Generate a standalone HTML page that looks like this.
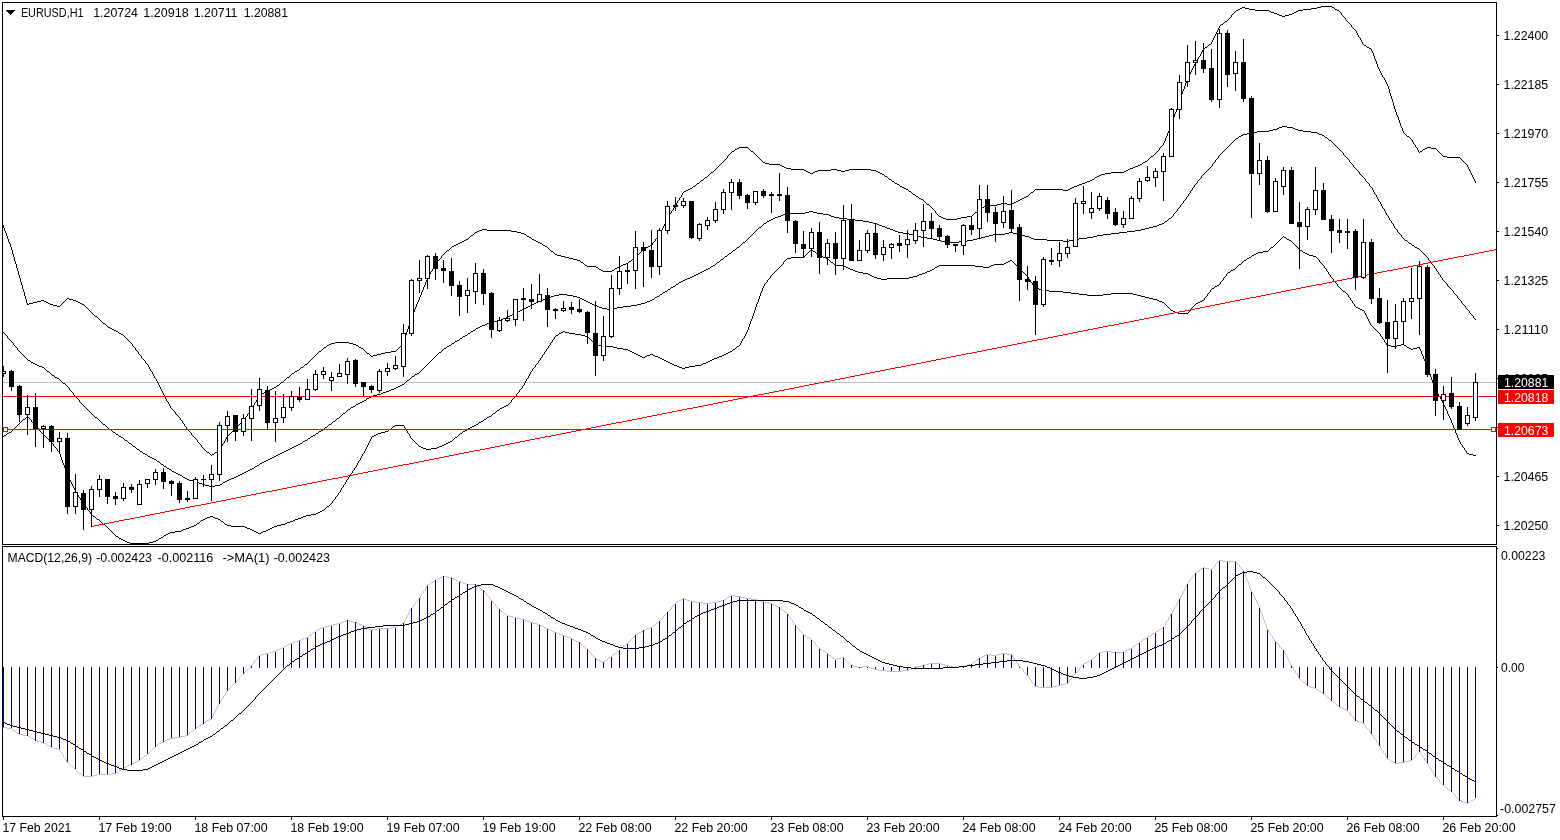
<!DOCTYPE html><html><head><meta charset="utf-8"><title>EURUSD,H1</title>
<style>html,body{margin:0;padding:0;background:#fff}svg{display:block}text{font-family:"Liberation Sans","DejaVu Sans",sans-serif;font-size:12.6px;fill:#000}</style></head><body>
<svg width="1560" height="840" viewBox="0 0 1560 840">
<rect width="1560" height="840" fill="#fff"/>
<g shape-rendering="crispEdges">
<clipPath id="cm"><rect x="3" y="3" width="1493" height="541"/></clipPath>
<clipPath id="cd"><rect x="3" y="547" width="1493" height="269"/></clipPath>
<g clip-path="url(#cm)">
<rect x="3" y="382" width="1493" height="1" fill="#c0c0c0"/>
<path fill="none" stroke="#000" stroke-width="1" d="M1159.5 148v2M1178.5 103v3M416.5 304v3M677.5 201v2M1394.5 106v3M166.5 399v2M1395.5 109v3M424.5 285v2M18.5 271v4M1187.5 78v2M170.5 406v2M413.5 312v2M21.5 282v3M1398.5 117v3M437.5 261v2M4.5 228v3M673.5 208v2M8.5 239v3M669.5 214v2M407.5 329v3M225.5 439v2M1468.5 167v2M1358.5 35v2M221.5 446v2M1362.5 42v2M1186.5 80v3M423.5 287v3M1376.5 61v3M935.5 211v2M432.5 269v2M1390.5 93v3M1168.5 131v2M224.5 441v2M664.5 224v2M1393.5 102v4M1200.5 54v2M17.5 268v3M1177.5 106v3M168.5 402v2M220.5 448v2M20.5 278v4M3.5 225v3M1184.5 86v3M1196.5 61v2M9.5 242v2M410.5 319v3M430.5 272v2M1389.5 89v4M1192.5 68v2M1345.5 18v2M13.5 254v3M160.5 387v2M1470.5 171v2M1167.5 133v3M1467.5 165v2M1360.5 38v2M161.5 389v2M663.5 226v2M1375.5 59v2M1164.5 141v2M409.5 322v4M1382.5 75v2M1413.5 142v2M1385.5 80v2M135.5 348v2M682.5 193v2M150.5 369v2M1191.5 70v2M153.5 374v2M258.5 396v2M1219.5 26v2M254.5 403v2M658.5 235v2M1171.5 123v3M159.5 385v2M441.5 256v2M412.5 314v2M253.5 405v2M1412.5 140v2M1387.5 84v2M420.5 295v2M1384.5 78v2M148.5 365v2M11.5 247v3M152.5 372v2M14.5 257v4M1212.5 40v2M191.5 433v2M419.5 297v3M681.5 195v2M427.5 278v2M169.5 404v2M1400.5 123v3M1180.5 97v3M652.5 243v2M426.5 280v2M1371.5 49v2M1216.5 32v2M1378.5 67v2M26.5 299v4M1392.5 99v3M1215.5 34v2M5.5 231v2M138.5 352v2M1211.5 42v2M1469.5 169v2M163.5 393v2M1373.5 53v3M1198.5 57v2M1377.5 64v3M1214.5 36v2M1194.5 64v2M1169.5 128v3M1391.5 96v3M403.5 342v2M1193.5 66v2M10.5 244v3M162.5 391v2M676.5 203v2M23.5 289v3M1386.5 82v2M1415.5 145v2M1418.5 150v2M154.5 376v2M406.5 332v3M679.5 198v2M414.5 309v3M175.5 412v2M422.5 290v2M1163.5 143v2M186.5 427v2M671.5 211v2M247.5 414v2M1179.5 100v3M405.5 335v4M19.5 275v3M674.5 206v2M421.5 292v3M1402.5 128v3M250.5 410v2M22.5 285v4M1183.5 89v2M1170.5 126v2M666.5 220v2M222.5 444v2M662.5 228v2M1380.5 71v2M1182.5 91v3M1190.5 72v2M1351.5 25v2M257.5 398v2M1173.5 117v3M7.5 236v3M1181.5 94v3M1189.5 74v2M415.5 307v2M256.5 400v2M1372.5 51v2M1471.5 173v2M252.5 407v2M1172.5 120v3M16.5 264v4M1188.5 76v2M1231.5 15v2M434.5 265v2M1473.5 177v2M433.5 267v2M1388.5 86v3M429.5 274v2M665.5 222v2M15.5 261v3M425.5 282v3M1166.5 136v2M141.5 356v2M165.5 397v2M1165.5 138v3M660.5 232v2M1397.5 115v2M180.5 418v2M1401.5 126v2M1357.5 33v2M1185.5 83v3M132.5 344v2M1176.5 109v3M1396.5 112v3M197.5 440v2M1417.5 148v2M12.5 250v4M156.5 379v2M1356.5 31v2M1374.5 56v3M1381.5 73v2M25.5 296v3M408.5 326v3M145.5 361v2M428.5 276v2M1218.5 28v2M661.5 230v2M226.5 437v2M158.5 383v2M1202.5 50v2M1217.5 30v2M1472.5 175v2M1475.5 181v2M411.5 316v3M1379.5 69v2M24.5 292v4M727.5 156v2M1201.5 52v2M2.5 223v2M1197.5 59v2M6.5 233v3M201.5 445v2M418.5 300v2M164.5 395v2M1474.5 179v2M1399.5 120v3M182.5 421v2M1403.5 131v2M1341.5 13v2M417.5 302v2M404.5 339v3M1174.5 114v3M184.5 424v2M1361.5 40v2M1213.5 38v2M668.5 216v2M244.5 418v2M667.5 218v2M157.5 381v2M1175.5 112v2M655.5 239v2M149.5 367v2M1.5 221v2M921 199.5h2M1020 199.5h2M456 244.5h2M542 244.5h1M458 243.5h2M540 243.5h2M715 169.5h1M791 169.5h13M831 169.5h6M849 169.5h22M1128 169.5h2M466 239.5h2M532 239.5h2M200 444.5h1M927 204.5h2M997 204.5h4M1007 204.5h5M41 300.5h3M65 300.5h1M73 300.5h3M313 357.5h1M462 241.5h2M536 241.5h2M654 241.5h1M1240 8.5h2M1245 8.5h4M1311 8.5h6M1334 8.5h1M587 266.5h9M619 266.5h2M318 352.5h1M366 352.5h1M385 352.5h6M1221 24.5h2M1350 24.5h1M1236 10.5h2M1255 10.5h14M1298 10.5h5M1337 10.5h2M729 154.5h1M755 154.5h1M1154 154.5h1M1441 154.5h1M1321 6.5h11M703 179.5h1M889 179.5h2M1092 179.5h2M285 379.5h1M732 151.5h2M751 151.5h2M1157 151.5h1M1420 151.5h2M1438 151.5h1M720 164.5h1M769 164.5h11M1140 164.5h2M1466 164.5h1M739 147.5h9M1160 147.5h1M1416 147.5h1M1427 147.5h4M1207 46.5h1M1366 46.5h1M238 425.5h1M713 171.5h1M806 171.5h2M815 171.5h3M841 171.5h4M876 171.5h2M1124 171.5h2M139 354.5h1M316 354.5h1M369 354.5h1M377 354.5h4M167 401.5h1M561 256.5h4M636 256.5h1M977 211.5h1M946 219.5h11M181 420.5h1M243 420.5h1M688 189.5h2M906 189.5h2M1035 189.5h28M1068 189.5h2M916 196.5h2M1026 196.5h2M292 373.5h2M695 185.5h1M899 185.5h1M1077 185.5h2M711 172.5h2M808 172.5h2M813 172.5h2M878 172.5h2M1111 172.5h13M735 149.5h2M749 149.5h1M1423 149.5h2M1436 149.5h1M209 453.5h1M214 453.5h1M185 426.5h1M237 426.5h1M137 351.5h1M319 351.5h2M365 351.5h1M391 351.5h5M716 168.5h1M786 168.5h5M1130 168.5h3M1282 16.5h3M1343 16.5h1M1238 9.5h2M1249 9.5h6M1303 9.5h8M1335 9.5h2M1205 47.5h2M1367 47.5h2M722 162.5h1M763 162.5h2M1143 162.5h2M1464 162.5h1M1230 17.5h1M1344 17.5h1M721 163.5h1M765 163.5h4M1142 163.5h1M1465 163.5h1M757 156.5h1M1151 156.5h2M1443 156.5h4M758 157.5h1M1150 157.5h1M1447 157.5h13M719 165.5h1M780 165.5h2M1138 165.5h2M697 183.5h2M895 183.5h2M1082 183.5h3M696 184.5h1M897 184.5h2M1079 184.5h3M1233 13.5h1M1274 13.5h3M1292 13.5h2M737 148.5h2M748 148.5h1M1425 148.5h2M1431 148.5h5M33 302.5h4M46 302.5h2M63 302.5h1M78 302.5h2M129 341.5h1M436 263.5h1M583 263.5h1M626 263.5h2M690 188.5h2M904 188.5h2M1070 188.5h2M718 166.5h1M782 166.5h2M1135 166.5h3M248 413.5h1M439 259.5h1M573 259.5h4M632 259.5h1M686 190.5h2M908 190.5h1M1034 190.5h1M1063 190.5h5M447 250.5h2M550 250.5h1M642 250.5h1M1235 11.5h1M1269 11.5h2M1296 11.5h2M1339 11.5h1M708 175.5h1M884 175.5h1M1099 175.5h2M329 344.5h2M353 344.5h3M402 344.5h1M941 217.5h2M961 217.5h6M133 346.5h1M326 346.5h1M358 346.5h1M400 346.5h1M714 170.5h1M804 170.5h2M818 170.5h13M837 170.5h4M845 170.5h4M871 170.5h5M1126 170.5h2M919 198.5h2M1022 198.5h2M699 182.5h1M894 182.5h1M1085 182.5h2M57 306.5h3M85 306.5h1M1279 15.5h3M1285 15.5h4M1342 15.5h1M678 200.5h1M923 200.5h1M1018 200.5h2M276 386.5h1M299 369.5h1M183 423.5h1M240 423.5h1M452 246.5h2M545 246.5h2M648 246.5h2M460 242.5h2M538 242.5h2M653 242.5h1M442 255.5h1M557 255.5h4M637 255.5h1M207 452.5h2M215 452.5h2M187 429.5h1M234 429.5h1M477 231.5h2M511 231.5h6M700 181.5h1M892 181.5h2M1087 181.5h3M926 203.5h1M1001 203.5h6M1012 203.5h2M130 342.5h1M335 342.5h14M693 186.5h2M900 186.5h2M1074 186.5h3M683 192.5h1M911 192.5h1M1031 192.5h2M707 176.5h1M885 176.5h2M1097 176.5h2M1242 7.5h3M1317 7.5h4M1332 7.5h2M451 247.5h1M547 247.5h1M646 247.5h2M1208 45.5h1M1364 45.5h2M1234 12.5h1M1271 12.5h3M1294 12.5h2M1340 12.5h1M274 387.5h2M943 218.5h3M957 218.5h4M446 251.5h1M551 251.5h2M641 251.5h1M473 234.5h1M524 234.5h2M659 234.5h1M131 343.5h1M331 343.5h4M349 343.5h4M471 235.5h2M526 235.5h1M1410 138.5h1M204 449.5h1M704 178.5h1M888 178.5h1M1094 178.5h1M1414 144.5h1M913 194.5h2M1029 194.5h1M479 230.5h3M487 230.5h24M710 173.5h1M810 173.5h3M880 173.5h2M1105 173.5h6M136 350.5h1M321 350.5h1M364 350.5h1M396 350.5h1M37 301.5h4M44 301.5h2M64 301.5h1M76 301.5h2M450 248.5h1M548 248.5h1M644 248.5h2M675 205.5h1M929 205.5h1M986 205.5h11M230 433.5h1M1405 134.5h1M210 454.5h1M212 454.5h2M709 174.5h1M882 174.5h2M1101 174.5h4M189 431.5h1M232 431.5h1M266 391.5h2M211 455.5h1M142 358.5h1M312 358.5h1M1227 20.5h1M1346 20.5h1M438 260.5h1M577 260.5h3M631 260.5h1M1225 21.5h2M1347 21.5h1M262 393.5h2M435 264.5h1M584 264.5h1M623 264.5h3M444 253.5h1M554 253.5h1M639 253.5h1M1224 22.5h1M1348 22.5h1M585 265.5h2M621 265.5h2M1203 49.5h1M725 159.5h1M760 159.5h1M1148 159.5h1M1461 159.5h1M464 240.5h2M534 240.5h2M1199 56.5h1M53 305.5h4M60 305.5h1M84 305.5h1M454 245.5h2M543 245.5h2M650 245.5h2M431 271.5h1M603 271.5h9M731 152.5h1M753 152.5h1M1156 152.5h1M1419 152.5h1M1439 152.5h1M924 201.5h1M1016 201.5h2M1383 77.5h1M925 202.5h1M1014 202.5h2M206 451.5h1M217 451.5h2M287 377.5h2M580 261.5h1M629 261.5h2M151 371.5h1M295 371.5h2M241 422.5h1M730 153.5h1M754 153.5h1M1155 153.5h1M1440 153.5h1M327 345.5h2M356 345.5h2M401 345.5h1M1204 48.5h1M1369 48.5h2M930 206.5h1M984 206.5h2M932 208.5h1M980 208.5h2M468 238.5h1M531 238.5h1M656 238.5h1M134 347.5h1M324 347.5h2M359 347.5h2M399 347.5h1M474 233.5h1M521 233.5h3M598 268.5h1M615 268.5h2M1232 14.5h1M1277 14.5h2M1289 14.5h3M734 150.5h1M750 150.5h1M1158 150.5h1M1422 150.5h1M1437 150.5h1M297 370.5h2M322 349.5h1M363 349.5h1M397 349.5h1M915 195.5h1M1028 195.5h1M87 308.5h1M88 309.5h1M27 303.5h1M29 303.5h4M48 303.5h2M62 303.5h1M80 303.5h2M147 364.5h1M305 364.5h2M283 381.5h1M140 355.5h1M315 355.5h1M370 355.5h1M373 355.5h4M27 304.5h2M50 304.5h3M61 304.5h1M82 304.5h2M190 432.5h1M231 432.5h1M692 187.5h1M902 187.5h2M1072 187.5h2M1352 27.5h1M281 382.5h2M323 348.5h1M361 348.5h2M398 348.5h1M482 229.5h5M717 167.5h1M784 167.5h2M1133 167.5h2M171 408.5h1M443 254.5h1M555 254.5h2M638 254.5h1M470 236.5h1M527 236.5h2M235 428.5h1M469 237.5h1M529 237.5h2M657 237.5h1M89 310.5h1M701 180.5h2M891 180.5h1M1090 180.5h2M264 392.5h2M90 311.5h1M289 376.5h1M724 160.5h1M761 160.5h1M1147 160.5h1M1462 160.5h1M931 207.5h1M982 207.5h2M1407 136.5h2M114 330.5h2M202 447.5h1M1209 44.5h2M1363 44.5h1M705 177.5h2M887 177.5h1M1095 177.5h2M1354 29.5h1M596 267.5h2M617 267.5h2M172 409.5h1M251 409.5h1M723 161.5h1M762 161.5h1M1145 161.5h2M1463 161.5h1M173 410.5h1M726 158.5h1M759 158.5h1M1149 158.5h1M1460 158.5h1M280 383.5h1M933 209.5h1M979 209.5h1M475 232.5h2M517 232.5h4M672 210.5h1M934 210.5h1M978 210.5h1M1228 19.5h1M680 197.5h1M918 197.5h1M1024 197.5h2M939 216.5h2M967 216.5h5M317 353.5h1M367 353.5h2M381 353.5h4M601 270.5h2M612 270.5h2M119 333.5h2M670 213.5h1M936 213.5h1M974 213.5h1M193 436.5h1M227 436.5h1M242 421.5h1M199 443.5h1M223 443.5h1M440 258.5h1M569 258.5h4M633 258.5h2M205 450.5h1M219 450.5h1M196 439.5h1M86 307.5h1M1195 63.5h1M565 257.5h4M635 257.5h1M66 299.5h1M69 299.5h4M272 388.5h2M177 415.5h1M188 430.5h1M233 430.5h1M92 313.5h1M103 323.5h2M314 356.5h1M371 356.5h2M445 252.5h1M553 252.5h1M640 252.5h1M937 214.5h1M973 214.5h1M938 215.5h1M972 215.5h1M99 319.5h1M118 332.5h1M684 191.5h2M909 191.5h2M1033 191.5h1M143 359.5h1M311 359.5h1M279 384.5h1M112 329.5h2M94 315.5h1M95 316.5h2M290 375.5h1M67 298.5h2M581 262.5h2M628 262.5h1M1162 145.5h1M101 321.5h1M178 416.5h1M246 416.5h1M192 435.5h1M228 435.5h1M123 335.5h1M304 365.5h1M110 328.5h2M179 417.5h1M245 417.5h1M194 437.5h1M1161 146.5h1M195 438.5h1M144 360.5h1M310 360.5h1M1353 28.5h1M255 402.5h1M91 312.5h1M449 249.5h1M549 249.5h1M643 249.5h1M239 424.5h1M116 331.5h2M270 389.5h2M108 327.5h2M97 317.5h1M1406 135.5h1M98 318.5h1M1355 30.5h1M301 367.5h2M728 155.5h1M756 155.5h1M1153 155.5h1M1442 155.5h1M174 411.5h1M93 314.5h1M303 366.5h1M125 337.5h1M198 442.5h1M599 269.5h2M614 269.5h1M155 378.5h1M286 378.5h1M260 394.5h2M176 414.5h1M121 334.5h2M146 363.5h1M307 363.5h1M127 339.5h1M128 340.5h1M294 372.5h1M975 212.5h2M268 390.5h2M105 324.5h1M259 395.5h1M300 368.5h1M277 385.5h2M100 320.5h1M1409 137.5h1M203 448.5h1M308 362.5h1M106 325.5h1M1404 133.5h1M107 326.5h1M912 193.5h1M1030 193.5h1M102 322.5h1M291 374.5h1M124 336.5h1M1359 37.5h1M1223 23.5h1M1349 23.5h1M126 338.5h1M284 380.5h1M1411 139.5h1M1229 18.5h1M229 434.5h1M249 412.5h1M236 427.5h1M309 361.5h1M1220 25.5h1"/>
<path fill="none" stroke="#000" stroke-width="1" d="M1359.5 172v2M13.5 343v2M1465.5 306v2M1384.5 209v2M1431.5 262v2M1190.5 191v2M73.5 393v2M1201.5 176v2M1382.5 206v2M1385.5 211v2M1386.5 213v2M1447.5 284v2M1180.5 205v2M1374.5 192v2M1378.5 199v2M17.5 348v2M1469.5 311v2M1436.5 269v2M1376.5 195v2M1397.5 230v2M1194.5 185v2M1212.5 164v2M1173.5 214v2M1188.5 194v2M1473.5 316v2M79.5 400v2M1218.5 156v2M1343.5 153v2M1453.5 291v2M1349.5 160v2M1434.5 266v2M1177.5 209v2M1388.5 216v2M2.5 330v2M1377.5 197v2M1380.5 202v2M1457.5 296v2M1438.5 272v2M1365.5 179v2M1401.5 235v2M1440.5 275v2M1215.5 160v2M1461.5 301v2M1428.5 258v2M1183.5 201v2M1369.5 184v2M7.5 336v2M1389.5 218v2M1381.5 204v2M1192.5 188v2M1373.5 190v2M1391.5 221v2M1186.5 197v2M1394.5 226v2M1442.5 278v2M1197.5 181v2M69.5 388v2M1372.5 188v2M1393.5 224v2M1353.5 165v2M90 412.5h1M345 412.5h1M109 429.5h2M323 429.5h1M748 238.5h1M927 238.5h6M977 238.5h4M1031 238.5h3M1079 238.5h8M1403 238.5h1M209 486.5h6M720 260.5h1M1429 260.5h1M493 321.5h4M1231 143.5h1M1333 143.5h1M1239 136.5h2M1324 136.5h1M746 240.5h1M937 240.5h4M967 240.5h6M1047 240.5h16M1069 240.5h4M1405 240.5h2M683 280.5h2M1443 280.5h1M749 237.5h1M921 237.5h6M981 237.5h4M1029 237.5h2M1087 237.5h6M1402 237.5h1M752 234.5h1M909 234.5h4M993 234.5h12M1017 234.5h4M1103 234.5h8M1400 234.5h1M522 309.5h2M607 309.5h6M1467 309.5h1M717 262.5h2M71 391.5h1M386 391.5h3M187 479.5h2M229 479.5h2M176 473.5h2M242 473.5h2M480 326.5h2M167 468.5h2M252 468.5h2M554 295.5h5M567 295.5h6M659 295.5h1M1456 295.5h1M781 215.5h2M829 215.5h2M1387 215.5h1M169 469.5h2M250 469.5h2M142 452.5h1M282 452.5h2M30 361.5h1M430 361.5h1M12 342.5h1M454 342.5h1M84 406.5h1M353 406.5h2M123 438.5h1M308 438.5h2M61 381.5h1M406 381.5h1M72 392.5h1M383 392.5h3M124 439.5h1M307 439.5h1M1279 127.5h3M1287 127.5h6M75 396.5h1M371 396.5h2M152 458.5h2M270 458.5h2M1241 135.5h2M1322 135.5h2M1273 129.5h4M1295 129.5h3M156 460.5h1M266 460.5h2M205 485.5h4M215 485.5h5M1224 150.5h1M1340 150.5h1M463 336.5h2M725 256.5h2M1426 256.5h1M1234 140.5h1M1329 140.5h2M136 448.5h1M290 448.5h2M754 232.5h1M898 232.5h5M1009 232.5h4M1119 232.5h8M1398 232.5h1M139 450.5h1M286 450.5h2M1269 130.5h4M1298 130.5h5M786 213.5h19M817 213.5h6M1174 213.5h1M101 422.5h1M332 422.5h1M530 305.5h2M594 305.5h3M631 305.5h6M1464 305.5h1M750 236.5h1M917 236.5h4M985 236.5h4M1025 236.5h4M1093 236.5h4M528 306.5h2M597 306.5h2M623 306.5h8M137 449.5h2M288 449.5h2M757 229.5h1M890 229.5h3M1141 229.5h4M1396 229.5h1M532 304.5h2M592 304.5h2M637 304.5h4M1463 304.5h1M778 216.5h3M831 216.5h3M1172 216.5h1M747 239.5h1M933 239.5h4M973 239.5h4M1034 239.5h13M1073 239.5h6M1404 239.5h1M82 404.5h1M356 404.5h2M724 257.5h1M1427 257.5h1M1202 175.5h1M1361 175.5h1M1207 170.5h1M1357 170.5h1M1238 137.5h1M1325 137.5h2M1247 133.5h6M1317 133.5h2M762 225.5h1M879 225.5h3M1157 225.5h2M678 283.5h1M1446 283.5h1M118 435.5h1M313 435.5h2M743 242.5h2M945 242.5h14M1408 242.5h1M161 464.5h2M259 464.5h1M185 478.5h2M231 478.5h3M159 462.5h1M262 462.5h2M1209 168.5h1M1355 168.5h1M758 228.5h1M887 228.5h3M1145 228.5h4M1395 228.5h1M150 457.5h2M272 457.5h2M197 482.5h2M223 482.5h2M145 454.5h2M278 454.5h2M74 395.5h1M373 395.5h4M559 294.5h8M660 294.5h2M1455 294.5h1M88 410.5h1M347 410.5h1M708 268.5h2M1435 268.5h1M549 297.5h2M577 297.5h3M655 297.5h2M732 251.5h1M1421 251.5h1M755 231.5h1M895 231.5h3M1127 231.5h8M18 350.5h1M442 350.5h1M745 241.5h1M941 241.5h4M959 241.5h8M1063 241.5h6M1407 241.5h1M132 445.5h1M296 445.5h2M1243 134.5h4M1319 134.5h3M673 286.5h2M1448 286.5h1M1222 152.5h1M1342 152.5h1M47 371.5h2M420 371.5h1M97 418.5h1M337 418.5h2M1196 183.5h1M1368 183.5h1M116 434.5h2M315 434.5h1M524 308.5h2M602 308.5h5M613 308.5h4M1466 308.5h1M160 463.5h1M260 463.5h2M520 310.5h2M1468 310.5h1M751 235.5h1M913 235.5h4M989 235.5h4M1021 235.5h4M1097 235.5h6M1232 142.5h1M1332 142.5h1M490 322.5h3M775 217.5h3M834 217.5h5M1171 217.5h1M180 475.5h2M238 475.5h2M172 471.5h2M246 471.5h2M1257 131.5h12M1303 131.5h8M154 459.5h2M268 459.5h2M783 214.5h3M823 214.5h6M174 472.5h2M244 472.5h2M551 296.5h3M573 296.5h4M657 296.5h2M1282 126.5h5M681 281.5h2M1444 281.5h1M1189 193.5h1M140 451.5h2M284 451.5h2M771 219.5h2M847 219.5h8M1168 219.5h1M35 364.5h2M427 364.5h1M131 444.5h1M298 444.5h2M25 357.5h1M434 357.5h1M805 212.5h4M813 212.5h4M1175 212.5h1M133 446.5h2M294 446.5h2M753 233.5h1M903 233.5h6M1005 233.5h4M1013 233.5h4M1111 233.5h8M1399 233.5h1M202 484.5h3M220 484.5h2M20 352.5h1M439 352.5h2M193 481.5h4M225 481.5h2M541 300.5h2M584 300.5h2M650 300.5h2M1460 300.5h1M737 247.5h2M1415 247.5h2M1253 132.5h4M1311 132.5h6M16 347.5h1M446 347.5h1M135 447.5h1M292 447.5h2M679 282.5h2M1445 282.5h1M76 397.5h1M369 397.5h2M736 248.5h1M1417 248.5h2M698 273.5h2M6 335.5h1M465 335.5h2M536 302.5h2M588 302.5h2M645 302.5h2M546 298.5h3M580 298.5h2M654 298.5h1M1458 298.5h1M663 292.5h2M526 307.5h2M599 307.5h3M617 307.5h6M514 313.5h2M1470 313.5h1M157 461.5h2M264 461.5h2M510 315.5h2M1472 315.5h1M55 377.5h2M411 377.5h1M103 424.5h2M329 424.5h2M125 440.5h2M305 440.5h2M85 407.5h1M351 407.5h2M42 367.5h2M424 367.5h1M764 223.5h2M873 223.5h4M1162 223.5h2M1392 223.5h1M112 431.5h1M319 431.5h2M1228 146.5h1M1336 146.5h1M696 274.5h2M1439 274.5h1M1362 176.5h1M670 288.5h1M1450 288.5h1M391 389.5h3M59 379.5h1M409 379.5h1M471 331.5h2M767 221.5h2M863 221.5h6M1165 221.5h2M362 401.5h2M95 417.5h2M339 417.5h1M50 373.5h1M417 373.5h2M119 436.5h2M311 436.5h2M163 465.5h1M257 465.5h2M1213 163.5h1M1351 163.5h1M11 341.5h1M455 341.5h2M1277 128.5h2M1293 128.5h2M512 314.5h2M1471 314.5h1M63 383.5h2M404 383.5h1M147 455.5h1M276 455.5h2M1205 172.5h1M121 437.5h2M310 437.5h1M1185 199.5h1M702 271.5h2M1437 271.5h1M1200 178.5h1M1364 178.5h1M1226 148.5h1M1338 148.5h1M49 372.5h1M419 372.5h1M1225 149.5h1M1339 149.5h1M482 325.5h3M716 263.5h1M478 327.5h2M21 353.5h1M438 353.5h1M39 366.5h3M425 366.5h1M80 402.5h1M360 402.5h2M111 430.5h1M321 430.5h2M741 244.5h1M1411 244.5h1M66 385.5h1M400 385.5h2M44 368.5h1M423 368.5h1M1208 169.5h1M1356 169.5h1M534 303.5h2M590 303.5h2M641 303.5h4M1462 303.5h1M1179 207.5h1M773 218.5h2M839 218.5h8M1169 218.5h2M462 337.5h1M54 376.5h1M412 376.5h2M171 470.5h1M248 470.5h2M143 453.5h2M280 453.5h2M87 409.5h1M348 409.5h2M65 384.5h1M402 384.5h2M721 259.5h2M1366 181.5h1M761 226.5h1M882 226.5h3M1153 226.5h4M199 483.5h3M222 483.5h1M662 293.5h1M1454 293.5h1M759 227.5h2M885 227.5h2M1149 227.5h4M164 466.5h2M255 466.5h2M687 278.5h3M57 378.5h2M410 378.5h1M733 250.5h2M1420 250.5h1M706 269.5h2M503 318.5h3M1474 318.5h1M23 355.5h1M436 355.5h1M4 333.5h1M468 333.5h2M497 320.5h4M178 474.5h2M240 474.5h2M1199 179.5h1M394 388.5h2M182 476.5h1M236 476.5h2M518 311.5h2M1206 171.5h1M1358 171.5h1M487 323.5h3M81 403.5h1M358 403.5h2M667 290.5h1M1452 290.5h1M70 390.5h1M389 390.5h2M98 419.5h1M336 419.5h1M501 319.5h2M1475 319.5h1M45 369.5h1M422 369.5h1M37 365.5h2M426 365.5h1M377 394.5h4M15 346.5h1M447 346.5h2M89 411.5h1M346 411.5h1M766 222.5h1M869 222.5h4M1164 222.5h1M91 413.5h1M343 413.5h2M1217 158.5h1M1347 158.5h1M51 374.5h1M415 374.5h2M1178 208.5h1M1383 208.5h1M739 246.5h1M1414 246.5h1M1193 187.5h1M1371 187.5h1M538 301.5h3M586 301.5h2M647 301.5h3M27 359.5h1M432 359.5h1M381 393.5h2M129 443.5h2M300 443.5h2M148 456.5h2M274 456.5h2M543 299.5h3M582 299.5h2M652 299.5h2M1459 299.5h1M769 220.5h2M855 220.5h8M1167 220.5h1M1390 220.5h1M676 284.5h2M1184 200.5h1M729 253.5h2M1423 253.5h1M1230 144.5h1M1334 144.5h1M700 272.5h2M1203 174.5h1M1360 174.5h1M9 339.5h1M459 339.5h1M1375 194.5h1M715 264.5h1M1432 264.5h1M127 441.5h1M303 441.5h2M1223 151.5h1M1341 151.5h1M443 349.5h1M8 338.5h1M460 338.5h2M60 380.5h1M407 380.5h2M83 405.5h1M355 405.5h1M740 245.5h1M1412 245.5h2M444 348.5h2M727 255.5h1M1425 255.5h1M671 287.5h2M1449 287.5h1M1227 147.5h1M1337 147.5h1M1363 177.5h1M1195 184.5h1M690 277.5h2M1441 277.5h1M100 421.5h1M333 421.5h2M685 279.5h2M68 387.5h1M396 387.5h2M704 270.5h2M19 351.5h1M441 351.5h1M742 243.5h1M1409 243.5h2M1198 180.5h1M1210 167.5h1M1354 167.5h1M86 408.5h1M350 408.5h1M1236 138.5h2M1327 138.5h1M1182 203.5h1M692 276.5h2M28 360.5h2M431 360.5h1M508 316.5h2M711 266.5h2M77 398.5h1M367 398.5h2M33 363.5h2M428 363.5h1M105 425.5h1M328 425.5h1M92 414.5h1M342 414.5h1M735 249.5h1M1419 249.5h1M22 354.5h1M437 354.5h1M1345 156.5h1M723 258.5h1M24 356.5h1M435 356.5h1M107 427.5h1M325 427.5h2M3 332.5h1M470 332.5h1M668 289.5h2M1451 289.5h1M189 480.5h4M227 480.5h2M183 477.5h2M234 477.5h2M1367 182.5h1M94 416.5h1M340 416.5h1M1216 159.5h1M1348 159.5h1M756 230.5h1M893 230.5h2M1135 230.5h6M452 343.5h2M476 328.5h2M675 285.5h1M115 433.5h1M316 433.5h2M694 275.5h2M506 317.5h2M809 211.5h4M1176 211.5h1M1181 204.5h1M1379 201.5h1M106 426.5h1M327 426.5h1M62 382.5h1M405 382.5h1M5 334.5h1M467 334.5h1M485 324.5h2M719 261.5h1M1430 261.5h1M99 420.5h1M335 420.5h1M451 344.5h1M1352 164.5h1M52 375.5h2M414 375.5h1M1211 166.5h1M46 370.5h1M421 370.5h1M14 345.5h1M449 345.5h2M113 432.5h2M318 432.5h1M31 362.5h2M429 362.5h1M1219 155.5h1M1344 155.5h1M1229 145.5h1M1335 145.5h1M713 265.5h2M1433 265.5h1M1 329.5h1M475 329.5h1M763 224.5h1M877 224.5h2M1159 224.5h3M108 428.5h1M324 428.5h1M128 442.5h1M302 442.5h1M728 254.5h1M1424 254.5h1M26 358.5h1M433 358.5h1M1233 141.5h1M1331 141.5h1M67 386.5h1M398 386.5h2M93 415.5h1M341 415.5h1M1346 157.5h1M166 467.5h1M254 467.5h1M1235 139.5h1M1328 139.5h1M710 267.5h1M1187 196.5h1M1214 162.5h1M1350 162.5h1M516 312.5h2M665 291.5h2M102 423.5h1M331 423.5h1M1204 173.5h1M731 252.5h1M1422 252.5h1M1220 154.5h1M78 399.5h1M366 399.5h1M473 330.5h2M10 340.5h1M457 340.5h2M364 400.5h2M1370 186.5h1M1221 153.5h1M1191 190.5h1"/>
<path fill="none" stroke="#000" stroke-width="1" d="M338.5 493v2M76.5 492v2M1204.5 298v2M80.5 498v2M362.5 454v2M1422.5 354v2M1428.5 369v3M1369.5 321v2M358.5 461v2M1384.5 340v2M354.5 468v2M749.5 324v3M552.5 340v2M1443.5 403v2M758.5 299v3M548.5 346v2M511.5 400v2M357.5 463v2M370.5 439v2M748.5 327v3M31.5 420v2M82.5 501v2M57.5 449v2M745.5 334v2M764.5 284v2M1427.5 366v3M542.5 355v2M64.5 465v3M1382.5 337v2M407.5 431v2M71.5 482v2M1386.5 343v2M761.5 291v2M1444.5 405v2M1445.5 407v2M530.5 372v2M1451.5 420v3M1452.5 423v2M744.5 336v2M526.5 379v2M1458.5 438v2M1430.5 374v3M752.5 316v3M740.5 343v2M522.5 386v2M760.5 293v3M1437.5 392v2M759.5 296v3M59.5 452v2M1207.5 294v2M405.5 428v2M69.5 478v2M409.5 434v2M1223.5 278v2M751.5 319v2M516.5 394v2M1450.5 418v2M1425.5 361v3M1457.5 435v3M1226.5 274v2M1429.5 372v2M1435.5 388v2M1436.5 390v2M87.5 508v2M757.5 302v2M770.5 276v2M346.5 480v2M1350.5 298v2M754.5 310v3M535.5 365v2M352.5 471v2M1424.5 359v2M345.5 482v2M341.5 488v2M1434.5 385v3M332.5 501v2M1352.5 301v2M66.5 471v3M1370.5 323v2M750.5 321v3M73.5 486v2M1447.5 411v3M1354.5 304v2M1380.5 334v2M1432.5 380v3M366.5 447v2M350.5 474v2M61.5 457v3M65.5 468v3M75.5 490v2M369.5 441v2M72.5 484v2M365.5 449v2M1364.5 311v2M361.5 456v2M1459.5 440v2M1431.5 377v3M340.5 490v2M364.5 451v2M60.5 454v3M360.5 458v2M525.5 381v2M410.5 436v2M356.5 465v2M1220.5 282v2M1319.5 260v2M1330.5 275v2M1333.5 279v2M1426.5 364v2M1440.5 397v2M84.5 504v2M753.5 313v3M39.5 429v2M550.5 343v2M756.5 304v3M546.5 349v2M74.5 488v2M747.5 330v2M767.5 280v2M1366.5 315v2M1454.5 428v2M763.5 286v2M371.5 437v2M540.5 358v2M746.5 332v2M1191.5 308v2M742.5 339v2M762.5 288v3M1446.5 409v2M1421.5 351v3M1028.5 277v2M1453.5 425v3M1210.5 290v2M1365.5 313v2M1460.5 442v2M68.5 476v2M1438.5 394v2M1324.5 266v2M554.5 337v2M1420.5 349v2M1030.5 280v2M63.5 463v2M67.5 474v2M1462.5 445v2M70.5 480v2M368.5 443v2M529.5 374v2M544.5 352v2M343.5 485v2M532.5 369v2M335.5 497v2M1032.5 283v2M62.5 460v3M528.5 376v2M404.5 426v2M524.5 383v2M90.5 512v2M1449.5 416v2M1456.5 433v2M1368.5 319v2M78.5 495v2M53.5 444v2M1448.5 414v2M755.5 307v3M1423.5 356v3M348.5 477v2M1455.5 430v3M1367.5 317v2M1433.5 383v2M367.5 445v2M1326.5 269v2M1337.5 284v2M741.5 341v2M1464.5 448v2M519.5 390v2M1442.5 401v2M1328.5 272v2M1034.5 286v2M1466.5 451v2M538.5 361v2M1441.5 399v2M783.5 262v2M1348.5 295v2M6 434.5h1M43 434.5h1M376 434.5h2M459 434.5h1M781 265.5h1M835 265.5h9M939 265.5h36M991 265.5h3M1016 265.5h1M1238 265.5h1M1323 265.5h1M534 367.5h1M679 367.5h3M685 367.5h4M21 421.5h1M481 421.5h2M769 278.5h1M877 278.5h4M887 278.5h22M1332 278.5h1M772 274.5h1M868 274.5h2M919 274.5h3M1025 274.5h1M1329 274.5h1M111 531.5h1M175 531.5h6M254 531.5h2M263 531.5h3M504 406.5h2M806 254.5h1M817 254.5h2M1254 254.5h2M1307 254.5h2M363 453.5h1M1467 453.5h2M130 543.5h19M1469 454.5h4M549 345.5h1M597 345.5h4M739 345.5h1M1387 345.5h4M1397 345.5h4M1404 345.5h2M25 418.5h1M29 418.5h1M486 418.5h1M1049 291.5h14M1343 291.5h2M102 523.5h1M197 523.5h2M224 523.5h1M285 523.5h2M77 494.5h1M809 251.5h1M813 251.5h2M1263 251.5h5M1302 251.5h1M791 257.5h13M823 257.5h3M1249 257.5h2M1316 257.5h1M113 533.5h1M168 533.5h2M258 533.5h3M537 363.5h1M670 363.5h2M703 363.5h3M91 514.5h1M311 514.5h5M2 436.5h2M45 436.5h1M372 436.5h2M457 436.5h1M517 393.5h1M1215 286.5h2M1338 286.5h1M1039 289.5h6M1211 289.5h1M1341 289.5h1M558 334.5h1M575 334.5h6M103 524.5h2M196 524.5h1M225 524.5h2M281 524.5h4M107 527.5h1M189 527.5h2M245 527.5h2M272 527.5h2M55 447.5h1M421 447.5h2M437 447.5h2M1463 447.5h1M638 355.5h2M647 355.5h3M653 355.5h2M722 355.5h2M27 416.5h1M489 416.5h2M512 399.5h1M677 366.5h2M689 366.5h6M7 433.5h2M42 433.5h1M378 433.5h3M408 433.5h1M460 433.5h2M1071 293.5h8M1111 293.5h22M1208 293.5h1M1346 293.5h1M1373 327.5h1M523 385.5h1M1175 312.5h3M1188 312.5h1M551 342.5h1M593 342.5h1M1385 342.5h1M114 534.5h1M166 534.5h2M1033 285.5h1M1217 285.5h2M127 542.5h3M149 542.5h4M97 519.5h2M203 519.5h2M218 519.5h2M295 519.5h3M831 262.5h2M1006 262.5h2M1013 262.5h1M1242 262.5h1M1320 262.5h1M778 268.5h1M848 268.5h2M934 268.5h1M1019 268.5h1M1235 268.5h1M1325 268.5h1M785 260.5h1M829 260.5h1M1010 260.5h2M1244 260.5h2M93 516.5h2M210 516.5h3M303 516.5h3M547 348.5h1M617 348.5h6M735 348.5h1M1409 348.5h2M1413 348.5h4M1419 348.5h1M595 344.5h2M1401 344.5h3M543 354.5h1M636 354.5h2M650 354.5h3M724 354.5h2M774 272.5h1M858 272.5h5M925 272.5h2M1023 272.5h1M1228 272.5h2M766 282.5h1M1031 282.5h1M1335 282.5h1M1079 294.5h8M1103 294.5h8M1133 294.5h4M1347 294.5h1M426 449.5h5M12 430.5h1M388 430.5h1M406 430.5h1M465 430.5h2M674 365.5h3M695 365.5h6M777 269.5h1M850 269.5h3M932 269.5h2M1020 269.5h1M1233 269.5h2M668 362.5h2M706 362.5h2M660 358.5h2M714 358.5h3M316 513.5h2M773 273.5h1M863 273.5h5M922 273.5h3M1024 273.5h1M1227 273.5h1M1271 247.5h2M1297 247.5h1M1145 297.5h4M1205 297.5h1M1349 297.5h1M79 497.5h1M556 335.5h2M581 335.5h4M1149 298.5h4M83 503.5h1M331 503.5h1M106 526.5h1M191 526.5h3M231 526.5h14M274 526.5h3M115 535.5h1M164 535.5h2M1166 305.5h1M1194 305.5h1M116 536.5h2M163 536.5h1M780 266.5h1M844 266.5h2M937 266.5h2M975 266.5h8M989 266.5h2M1017 266.5h1M1237 266.5h1M58 451.5h1M1173 311.5h2M1189 311.5h1M775 271.5h1M855 271.5h3M927 271.5h3M1022 271.5h1M1230 271.5h1M1327 271.5h1M16 426.5h1M36 426.5h1M393 426.5h2M472 426.5h2M1279 240.5h1M1289 240.5h2M662 359.5h2M712 359.5h2M1 437.5h1M46 437.5h1M455 437.5h2M874 277.5h3M909 277.5h4M1224 277.5h1M1331 277.5h1M1159 301.5h3M1200 301.5h2M493 413.5h2M23 419.5h2M30 419.5h1M484 419.5h2M541 357.5h1M642 357.5h3M658 357.5h2M717 357.5h2M808 252.5h1M815 252.5h1M1258 252.5h5M1303 252.5h2M1035 288.5h4M1212 288.5h2M1340 288.5h1M559 333.5h2M569 333.5h6M1379 333.5h1M784 261.5h1M830 261.5h1M1008 261.5h2M1012 261.5h1M1243 261.5h1M628 350.5h2M732 350.5h1M123 540.5h2M156 540.5h2M804 256.5h1M821 256.5h2M1251 256.5h1M1313 256.5h3M613 347.5h4M736 347.5h1M1407 347.5h2M1417 347.5h3M1063 292.5h8M1209 292.5h1M1345 292.5h1M324 509.5h1M19 423.5h1M33 423.5h1M478 423.5h1M17 425.5h1M35 425.5h1M395 425.5h9M474 425.5h2M872 276.5h2M913 276.5h4M1027 276.5h1M1225 276.5h1M502 407.5h2M18 424.5h1M34 424.5h1M476 424.5h2M1141 296.5h4M1206 296.5h1M779 267.5h1M846 267.5h2M935 267.5h2M983 267.5h6M1018 267.5h1M1236 267.5h1M768 279.5h1M881 279.5h6M1029 279.5h1M108 528.5h1M186 528.5h3M247 528.5h3M270 528.5h2M782 264.5h1M834 264.5h1M994 264.5h10M1015 264.5h1M1239 264.5h2M1322 264.5h1M805 255.5h1M819 255.5h2M1252 255.5h2M1309 255.5h4M536 364.5h1M672 364.5h2M701 364.5h2M1465 450.5h1M539 360.5h1M664 360.5h2M710 360.5h2M666 361.5h2M708 361.5h2M119 538.5h2M159 538.5h2M1087 295.5h16M1137 295.5h4M121 539.5h2M158 539.5h1M418 445.5h1M442 445.5h2M15 427.5h1M37 427.5h1M392 427.5h1M470 427.5h2M1214 287.5h1M1339 287.5h1M4 435.5h2M44 435.5h1M374 435.5h2M458 435.5h1M771 275.5h1M870 275.5h2M917 275.5h2M1026 275.5h1M110 530.5h1M181 530.5h2M252 530.5h2M266 530.5h2M96 518.5h1M205 518.5h2M215 518.5h3M298 518.5h3M56 448.5h1M423 448.5h3M431 448.5h6M601 346.5h12M737 346.5h2M1391 346.5h6M1406 346.5h1M9 432.5h2M41 432.5h1M381 432.5h4M462 432.5h1M13 429.5h1M389 429.5h2M467 429.5h1M496 411.5h1M640 356.5h2M645 356.5h2M655 356.5h3M719 356.5h3M1165 304.5h1M1195 304.5h1M634 353.5h2M726 353.5h2M1170 309.5h1M1360 309.5h2M765 283.5h1M1336 283.5h1M1178 313.5h10M342 487.5h1M100 521.5h1M200 521.5h1M221 521.5h2M290 521.5h3M776 270.5h1M853 270.5h2M930 270.5h2M1021 270.5h1M1231 270.5h2M48 439.5h1M412 439.5h1M453 439.5h1M1171 310.5h2M1190 310.5h1M1362 310.5h2M623 349.5h5M733 349.5h2M1411 349.5h2M112 532.5h1M170 532.5h5M256 532.5h2M261 532.5h2M1167 306.5h1M1193 306.5h1M1355 306.5h1M787 258.5h4M826 258.5h2M1247 258.5h2M1317 258.5h1M109 529.5h1M183 529.5h3M250 529.5h2M268 529.5h2M125 541.5h2M153 541.5h3M95 517.5h1M207 517.5h3M213 517.5h2M301 517.5h2M527 378.5h1M1371 325.5h1M545 351.5h1M630 351.5h2M730 351.5h2M118 537.5h1M161 537.5h2M589 338.5h1M743 338.5h1M1164 303.5h1M1196 303.5h2M1353 303.5h1M561 332.5h2M565 332.5h4M1378 332.5h1M553 339.5h1M590 339.5h1M1383 339.5h1M1153 299.5h4M632 352.5h2M728 352.5h2M1169 308.5h1M1358 308.5h2M509 403.5h1M1273 246.5h1M1296 246.5h1M1222 280.5h1M520 389.5h1M351 473.5h1M11 431.5h1M40 431.5h1M385 431.5h3M463 431.5h2M14 428.5h1M38 428.5h1M391 428.5h1M468 428.5h2M1280 239.5h1M1287 239.5h2M810 250.5h1M812 250.5h1M1268 250.5h1M1300 250.5h2M1277 242.5h1M1292 242.5h1M50 441.5h1M414 441.5h1M450 441.5h2M20 422.5h1M32 422.5h1M479 422.5h2M531 371.5h1M1274 245.5h1M1295 245.5h1M49 440.5h1M413 440.5h1M452 440.5h1M1157 300.5h2M1202 300.5h2M1351 300.5h1M337 495.5h1M105 525.5h1M194 525.5h2M227 525.5h4M277 525.5h4M81 500.5h1M333 500.5h1M85 506.5h1M327 506.5h2M417 444.5h1M444 444.5h2M1461 444.5h1M1281 238.5h1M1286 238.5h1M54 446.5h1M419 446.5h2M439 446.5h3M1374 328.5h1M1270 248.5h1M1298 248.5h1M833 263.5h1M1004 263.5h2M1014 263.5h1M1241 263.5h1M1321 263.5h1M347 479.5h1M513 398.5h1M101 522.5h1M199 522.5h1M223 522.5h1M287 522.5h3M515 396.5h1M1439 396.5h1M492 414.5h1M807 253.5h1M816 253.5h1M1256 253.5h2M1305 253.5h2M563 331.5h2M1377 331.5h1M1276 243.5h1M1293 243.5h1M88 510.5h1M322 510.5h2M533 368.5h1M682 368.5h3M1376 330.5h1M500 408.5h2M51 442.5h1M415 442.5h1M448 442.5h2M1162 302.5h2M1198 302.5h2M1278 241.5h1M1291 241.5h1M1283 236.5h1M330 504.5h1M1282 237.5h1M1284 237.5h2M1168 307.5h1M1192 307.5h1M1356 307.5h2M336 496.5h1M89 511.5h1M320 511.5h2M510 402.5h1M811 249.5h1M1269 249.5h1M1299 249.5h1M22 420.5h1M483 420.5h1M521 388.5h1M359 460.5h1M355 467.5h1M1219 284.5h1M555 336.5h1M585 336.5h3M1381 336.5h1M92 515.5h1M306 515.5h5M99 520.5h1M201 520.5h2M220 520.5h1M293 520.5h2M497 410.5h2M47 438.5h1M411 438.5h1M454 438.5h1M1372 326.5h1M499 409.5h1M334 499.5h1M1045 290.5h4M1342 290.5h1M329 505.5h1M1221 281.5h1M1334 281.5h1M514 397.5h1M1375 329.5h1M506 405.5h2M52 443.5h1M416 443.5h1M446 443.5h2M786 259.5h1M828 259.5h1M1246 259.5h1M1318 259.5h1M86 507.5h1M326 507.5h1M26 417.5h1M28 417.5h1M487 417.5h2M518 392.5h1M592 341.5h1M491 415.5h1M1275 244.5h1M1294 244.5h1M344 484.5h1M318 512.5h2M594 343.5h1M1473 455.5h3M588 337.5h1M353 470.5h1M339 492.5h1M591 340.5h1M508 404.5h1M349 476.5h1M495 412.5h1M325 508.5h1"/>
<path fill="none" stroke="#ff0000" stroke-width="1" d="M576 430.5h5M824 381.5h6M332 478.5h6M1316 284.5h6M1387 270.5h6M292 486.5h5M855 375.5h5M611 423.5h5M393 466.5h5M779 390.5h5M1377 272.5h5M1134 320.5h5M1342 279.5h5M1098 327.5h5M317 481.5h5M672 411.5h5M277 489.5h5M637 418.5h5M1413 265.5h5M840 378.5h5M596 426.5h5M1159 315.5h5M135 517.5h5M343 476.5h5M99 524.5h5M1119 323.5h5M875 371.5h5M591 427.5h5M1438 260.5h5M657 414.5h5M622 421.5h5M870 372.5h5M652 415.5h5M901 366.5h5M1393 269.5h5M368 471.5h5M931 360.5h5M687 408.5h6M114 521.5h5M890 368.5h5M647 416.5h5M1210 305.5h5M429 459.5h5M1418 264.5h5M1174 312.5h5M150 514.5h5M748 396.5h5M353 474.5h5M713 403.5h5M1489 250.5h5M916 363.5h5M1453 257.5h5M1195 308.5h5M951 356.5h5M1408 266.5h5M698 406.5h5M1474 253.5h5M946 357.5h5M165 511.5h5M906 365.5h5M124 519.5h6M91 526.5h3M1469 254.5h5M1225 302.5h5M444 456.5h5M409 463.5h5M1007 345.5h5M966 353.5h6M723 401.5h5M1286 290.5h5M469 451.5h5M185 507.5h5M708 404.5h5M180 508.5h5M1271 293.5h5M246 495.5h5M738 398.5h5M703 405.5h5M1022 342.5h5M241 496.5h5M982 350.5h5M201 504.5h5M1301 287.5h5M520 441.5h5M1261 295.5h5M1043 338.5h5M799 386.5h5M226 499.5h5M764 393.5h5M1362 275.5h5M1322 283.5h5M505 444.5h5M261 492.5h5M753 395.5h5M784 389.5h5M256 493.5h5M216 501.5h5M814 383.5h5M535 438.5h5M1058 335.5h5M1017 343.5h5M1337 280.5h5M556 434.5h5M312 482.5h5M1083 330.5h5M1398 268.5h5M581 429.5h5M860 374.5h5M1108 325.5h6M1073 332.5h5M571 431.5h5M1169 313.5h5M109 522.5h5M1093 328.5h5M632 419.5h5M1367 274.5h5M865 373.5h5M936 359.5h5M830 380.5h5M1428 262.5h5M403 464.5h6M1149 317.5h5M160 512.5h5M327 479.5h5M1245 298.5h5M926 361.5h5M1448 258.5h5M140 516.5h5M987 349.5h5M1443 259.5h5M419 461.5h5M941 358.5h5M480 449.5h5M1185 310.5h5M682 409.5h5M464 452.5h5M1002 346.5h5M221 500.5h5M956 355.5h5M175 509.5h5M495 446.5h5M774 391.5h5M1296 288.5h5M236 497.5h5M758 394.5h6M231 498.5h5M297 485.5h5M1032 340.5h5M251 494.5h5M1311 285.5h5M530 439.5h5M850 376.5h5M1372 273.5h5M911 364.5h5M1078 331.5h5M835 379.5h5M266 491.5h6M338 477.5h5M1357 276.5h5M1114 324.5h5M586 428.5h5M1068 333.5h5M606 424.5h5M145 515.5h5M348 475.5h5M130 518.5h5M378 469.5h5M1433 261.5h5M662 413.5h5M1144 318.5h5M1464 255.5h5M1423 263.5h5M1205 306.5h5M961 354.5h5M424 460.5h5M880 370.5h5M454 454.5h5M1479 252.5h5M1220 303.5h5M439 457.5h5M977 351.5h5M195 505.5h6M190 506.5h5M1037 339.5h6M992 348.5h5M1235 300.5h5M1053 336.5h5M809 384.5h5M733 399.5h5M515 442.5h5M272 490.5h5M1256 296.5h5M728 400.5h5M789 388.5h5M545 436.5h6M287 487.5h5M1347 278.5h5M885 369.5h5M490 447.5h5M1332 281.5h5M1088 329.5h5M804 385.5h5M302 484.5h5M119 520.5h5M363 472.5h5M566 432.5h5M1129 321.5h5M104 523.5h5M1164 314.5h5M1179 311.5h6M642 417.5h5M398 465.5h5M1484 251.5h5M211 502.5h5M414 462.5h5M170 510.5h5M1012 344.5h5M718 402.5h5M474 450.5h6M1458 256.5h6M997 347.5h5M1027 341.5h5M1230 301.5h5M794 387.5h5M1103 326.5h5M322 480.5h5M1306 286.5h5M845 377.5h5M94 525.5h5M540 437.5h5M1382 271.5h5M1139 319.5h5M921 362.5h5M1154 316.5h5M693 407.5h5M616 422.5h6M155 513.5h5M895 367.5h6M1215 304.5h5M388 467.5h5M769 392.5h5M449 455.5h5M972 352.5h5M510 443.5h5M1063 334.5h5M206 503.5h5M525 440.5h5M1124 322.5h5M1291 289.5h5M1048 337.5h5M551 435.5h5M1281 291.5h5M819 382.5h5M358 473.5h5M282 488.5h5M561 433.5h5M373 470.5h5M1200 307.5h5M667 412.5h5M1190 309.5h5M1250 297.5h6M434 458.5h5M743 397.5h5M1266 294.5h5M485 448.5h5M500 445.5h5M1327 282.5h5M627 420.5h5M383 468.5h5M1240 299.5h5M459 453.5h5M307 483.5h5M1352 277.5h5M601 425.5h5M677 410.5h5M1276 292.5h5M1494 249.5h3M1403 267.5h5"/>
<rect x="3" y="396" width="1493" height="1" fill="#ff0000"/>
<rect x="3" y="429" width="1493" height="1" fill="#ff0000"/>
<rect x="3" y="366" width="1" height="11" fill="#000"/>
<rect x="1" y="371" width="5" height="3" fill="#000"/>
<rect x="2" y="372" width="3" height="1" fill="#fff"/>
<rect x="11" y="370" width="1" height="21" fill="#000"/>
<rect x="9" y="371" width="5" height="16" fill="#000"/>
<rect x="19" y="385" width="1" height="37" fill="#000"/>
<rect x="17" y="386" width="5" height="29" fill="#000"/>
<rect x="27" y="395" width="1" height="40" fill="#000"/>
<rect x="25" y="407" width="5" height="8" fill="#000"/>
<rect x="26" y="408" width="3" height="6" fill="#fff"/>
<rect x="35" y="393" width="1" height="54" fill="#000"/>
<rect x="33" y="407" width="5" height="22" fill="#000"/>
<rect x="43" y="425" width="1" height="23" fill="#000"/>
<rect x="41" y="426" width="5" height="3" fill="#000"/>
<rect x="42" y="427" width="3" height="1" fill="#fff"/>
<rect x="51" y="425" width="1" height="27" fill="#000"/>
<rect x="49" y="426" width="5" height="16" fill="#000"/>
<rect x="59" y="432" width="1" height="21" fill="#000"/>
<rect x="57" y="438" width="5" height="4" fill="#000"/>
<rect x="58" y="439" width="3" height="2" fill="#fff"/>
<rect x="67" y="433" width="1" height="81" fill="#000"/>
<rect x="65" y="438" width="5" height="69" fill="#000"/>
<rect x="75" y="474" width="1" height="40" fill="#000"/>
<rect x="73" y="492" width="5" height="15" fill="#000"/>
<rect x="74" y="493" width="3" height="13" fill="#fff"/>
<rect x="83" y="490" width="1" height="40" fill="#000"/>
<rect x="81" y="493" width="5" height="17" fill="#000"/>
<rect x="91" y="486" width="1" height="41" fill="#000"/>
<rect x="89" y="489" width="5" height="21" fill="#000"/>
<rect x="90" y="490" width="3" height="19" fill="#fff"/>
<rect x="99" y="475" width="1" height="22" fill="#000"/>
<rect x="97" y="479" width="5" height="11" fill="#000"/>
<rect x="98" y="480" width="3" height="9" fill="#fff"/>
<rect x="107" y="479" width="1" height="25" fill="#000"/>
<rect x="105" y="479" width="5" height="18" fill="#000"/>
<rect x="115" y="492" width="1" height="13" fill="#000"/>
<rect x="113" y="496" width="5" height="3" fill="#000"/>
<rect x="123" y="483" width="1" height="18" fill="#000"/>
<rect x="121" y="487" width="5" height="12" fill="#000"/>
<rect x="122" y="488" width="3" height="10" fill="#fff"/>
<rect x="131" y="484" width="1" height="9" fill="#000"/>
<rect x="129" y="487" width="5" height="3" fill="#000"/>
<rect x="139" y="480" width="1" height="25" fill="#000"/>
<rect x="137" y="484" width="5" height="21" fill="#000"/>
<rect x="138" y="485" width="3" height="19" fill="#fff"/>
<rect x="147" y="479" width="1" height="9" fill="#000"/>
<rect x="145" y="479" width="5" height="5" fill="#000"/>
<rect x="146" y="480" width="3" height="3" fill="#fff"/>
<rect x="155" y="469" width="1" height="16" fill="#000"/>
<rect x="153" y="472" width="5" height="8" fill="#000"/>
<rect x="154" y="473" width="3" height="6" fill="#fff"/>
<rect x="163" y="468" width="1" height="21" fill="#000"/>
<rect x="161" y="472" width="5" height="10" fill="#000"/>
<rect x="171" y="480" width="1" height="16" fill="#000"/>
<rect x="169" y="481" width="5" height="3" fill="#000"/>
<rect x="179" y="481" width="1" height="22" fill="#000"/>
<rect x="177" y="483" width="5" height="17" fill="#000"/>
<rect x="187" y="491" width="1" height="11" fill="#000"/>
<rect x="185" y="498" width="5" height="2" fill="#000"/>
<rect x="195" y="477" width="1" height="22" fill="#000"/>
<rect x="193" y="479" width="5" height="20" fill="#000"/>
<rect x="194" y="480" width="3" height="18" fill="#fff"/>
<rect x="203" y="475" width="1" height="12" fill="#000"/>
<rect x="201" y="479" width="5" height="1" fill="#000"/>
<rect x="211" y="465" width="1" height="36" fill="#000"/>
<rect x="209" y="474" width="5" height="6" fill="#000"/>
<rect x="210" y="475" width="3" height="4" fill="#fff"/>
<rect x="219" y="422" width="1" height="59" fill="#000"/>
<rect x="217" y="425" width="5" height="50" fill="#000"/>
<rect x="218" y="426" width="3" height="48" fill="#fff"/>
<rect x="227" y="411" width="1" height="31" fill="#000"/>
<rect x="225" y="416" width="5" height="10" fill="#000"/>
<rect x="226" y="417" width="3" height="8" fill="#fff"/>
<rect x="235" y="415" width="1" height="26" fill="#000"/>
<rect x="233" y="415" width="5" height="17" fill="#000"/>
<rect x="243" y="414" width="1" height="22" fill="#000"/>
<rect x="241" y="418" width="5" height="14" fill="#000"/>
<rect x="242" y="419" width="3" height="12" fill="#fff"/>
<rect x="251" y="389" width="1" height="52" fill="#000"/>
<rect x="249" y="406" width="5" height="13" fill="#000"/>
<rect x="250" y="407" width="3" height="11" fill="#fff"/>
<rect x="259" y="378" width="1" height="33" fill="#000"/>
<rect x="257" y="389" width="5" height="17" fill="#000"/>
<rect x="258" y="390" width="3" height="15" fill="#fff"/>
<rect x="267" y="386" width="1" height="43" fill="#000"/>
<rect x="265" y="390" width="5" height="33" fill="#000"/>
<rect x="275" y="391" width="1" height="51" fill="#000"/>
<rect x="273" y="418" width="5" height="5" fill="#000"/>
<rect x="274" y="419" width="3" height="3" fill="#fff"/>
<rect x="283" y="394" width="1" height="29" fill="#000"/>
<rect x="281" y="407" width="5" height="11" fill="#000"/>
<rect x="282" y="408" width="3" height="9" fill="#fff"/>
<rect x="291" y="391" width="1" height="20" fill="#000"/>
<rect x="289" y="396" width="5" height="12" fill="#000"/>
<rect x="290" y="397" width="3" height="10" fill="#fff"/>
<rect x="299" y="387" width="1" height="15" fill="#000"/>
<rect x="297" y="397" width="5" height="3" fill="#000"/>
<rect x="307" y="379" width="1" height="21" fill="#000"/>
<rect x="305" y="389" width="5" height="11" fill="#000"/>
<rect x="306" y="390" width="3" height="9" fill="#fff"/>
<rect x="315" y="370" width="1" height="21" fill="#000"/>
<rect x="313" y="374" width="5" height="16" fill="#000"/>
<rect x="314" y="375" width="3" height="14" fill="#fff"/>
<rect x="323" y="367" width="1" height="12" fill="#000"/>
<rect x="321" y="371" width="5" height="4" fill="#000"/>
<rect x="322" y="372" width="3" height="2" fill="#fff"/>
<rect x="331" y="372" width="1" height="19" fill="#000"/>
<rect x="329" y="377" width="5" height="4" fill="#000"/>
<rect x="330" y="378" width="3" height="2" fill="#fff"/>
<rect x="339" y="364" width="1" height="13" fill="#000"/>
<rect x="337" y="373" width="5" height="4" fill="#000"/>
<rect x="338" y="374" width="3" height="2" fill="#fff"/>
<rect x="347" y="358" width="1" height="26" fill="#000"/>
<rect x="345" y="361" width="5" height="14" fill="#000"/>
<rect x="346" y="362" width="3" height="12" fill="#fff"/>
<rect x="355" y="359" width="1" height="28" fill="#000"/>
<rect x="353" y="360" width="5" height="24" fill="#000"/>
<rect x="363" y="382" width="1" height="14" fill="#000"/>
<rect x="361" y="382" width="5" height="5" fill="#000"/>
<rect x="371" y="385" width="1" height="8" fill="#000"/>
<rect x="369" y="386" width="5" height="4" fill="#000"/>
<rect x="379" y="369" width="1" height="24" fill="#000"/>
<rect x="377" y="371" width="5" height="20" fill="#000"/>
<rect x="378" y="372" width="3" height="18" fill="#fff"/>
<rect x="387" y="363" width="1" height="13" fill="#000"/>
<rect x="385" y="368" width="5" height="4" fill="#000"/>
<rect x="386" y="369" width="3" height="2" fill="#fff"/>
<rect x="395" y="356" width="1" height="14" fill="#000"/>
<rect x="393" y="365" width="5" height="4" fill="#000"/>
<rect x="394" y="366" width="3" height="2" fill="#fff"/>
<rect x="403" y="324" width="1" height="53" fill="#000"/>
<rect x="401" y="333" width="5" height="34" fill="#000"/>
<rect x="402" y="334" width="3" height="32" fill="#fff"/>
<rect x="411" y="279" width="1" height="57" fill="#000"/>
<rect x="409" y="280" width="5" height="54" fill="#000"/>
<rect x="410" y="281" width="3" height="52" fill="#fff"/>
<rect x="419" y="260" width="1" height="33" fill="#000"/>
<rect x="417" y="278" width="5" height="3" fill="#000"/>
<rect x="418" y="279" width="3" height="1" fill="#fff"/>
<rect x="427" y="255" width="1" height="34" fill="#000"/>
<rect x="425" y="256" width="5" height="23" fill="#000"/>
<rect x="426" y="257" width="3" height="21" fill="#fff"/>
<rect x="435" y="253" width="1" height="27" fill="#000"/>
<rect x="433" y="256" width="5" height="13" fill="#000"/>
<rect x="443" y="260" width="1" height="23" fill="#000"/>
<rect x="441" y="268" width="5" height="3" fill="#000"/>
<rect x="451" y="258" width="1" height="38" fill="#000"/>
<rect x="449" y="271" width="5" height="15" fill="#000"/>
<rect x="459" y="281" width="1" height="35" fill="#000"/>
<rect x="457" y="285" width="5" height="12" fill="#000"/>
<rect x="467" y="278" width="1" height="35" fill="#000"/>
<rect x="465" y="290" width="5" height="6" fill="#000"/>
<rect x="466" y="291" width="3" height="4" fill="#fff"/>
<rect x="475" y="263" width="1" height="41" fill="#000"/>
<rect x="473" y="273" width="5" height="19" fill="#000"/>
<rect x="474" y="274" width="3" height="17" fill="#fff"/>
<rect x="483" y="269" width="1" height="36" fill="#000"/>
<rect x="481" y="273" width="5" height="21" fill="#000"/>
<rect x="491" y="292" width="1" height="46" fill="#000"/>
<rect x="489" y="293" width="5" height="37" fill="#000"/>
<rect x="499" y="317" width="1" height="15" fill="#000"/>
<rect x="497" y="320" width="5" height="11" fill="#000"/>
<rect x="498" y="321" width="3" height="9" fill="#fff"/>
<rect x="507" y="310" width="1" height="12" fill="#000"/>
<rect x="505" y="318" width="5" height="3" fill="#000"/>
<rect x="506" y="319" width="3" height="1" fill="#fff"/>
<rect x="515" y="299" width="1" height="27" fill="#000"/>
<rect x="513" y="299" width="5" height="21" fill="#000"/>
<rect x="514" y="300" width="3" height="19" fill="#fff"/>
<rect x="523" y="288" width="1" height="33" fill="#000"/>
<rect x="521" y="298" width="5" height="2" fill="#000"/>
<rect x="531" y="284" width="1" height="25" fill="#000"/>
<rect x="529" y="299" width="5" height="3" fill="#000"/>
<rect x="539" y="274" width="1" height="28" fill="#000"/>
<rect x="537" y="294" width="5" height="8" fill="#000"/>
<rect x="538" y="295" width="3" height="6" fill="#fff"/>
<rect x="547" y="288" width="1" height="39" fill="#000"/>
<rect x="545" y="295" width="5" height="15" fill="#000"/>
<rect x="555" y="308" width="1" height="11" fill="#000"/>
<rect x="553" y="309" width="5" height="2" fill="#000"/>
<rect x="563" y="301" width="1" height="11" fill="#000"/>
<rect x="561" y="308" width="5" height="3" fill="#000"/>
<rect x="562" y="309" width="3" height="1" fill="#fff"/>
<rect x="571" y="302" width="1" height="12" fill="#000"/>
<rect x="569" y="307" width="5" height="3" fill="#000"/>
<rect x="579" y="299" width="1" height="14" fill="#000"/>
<rect x="577" y="309" width="5" height="3" fill="#000"/>
<rect x="587" y="311" width="1" height="33" fill="#000"/>
<rect x="585" y="312" width="5" height="21" fill="#000"/>
<rect x="595" y="301" width="1" height="75" fill="#000"/>
<rect x="593" y="333" width="5" height="23" fill="#000"/>
<rect x="603" y="316" width="1" height="45" fill="#000"/>
<rect x="601" y="336" width="5" height="20" fill="#000"/>
<rect x="602" y="337" width="3" height="18" fill="#fff"/>
<rect x="611" y="275" width="1" height="63" fill="#000"/>
<rect x="609" y="288" width="5" height="49" fill="#000"/>
<rect x="610" y="289" width="3" height="47" fill="#fff"/>
<rect x="619" y="256" width="1" height="39" fill="#000"/>
<rect x="617" y="271" width="5" height="18" fill="#000"/>
<rect x="618" y="272" width="3" height="16" fill="#fff"/>
<rect x="627" y="263" width="1" height="21" fill="#000"/>
<rect x="625" y="270" width="5" height="2" fill="#000"/>
<rect x="635" y="231" width="1" height="58" fill="#000"/>
<rect x="633" y="247" width="5" height="24" fill="#000"/>
<rect x="634" y="248" width="3" height="22" fill="#fff"/>
<rect x="643" y="242" width="1" height="45" fill="#000"/>
<rect x="641" y="247" width="5" height="4" fill="#000"/>
<rect x="651" y="230" width="1" height="48" fill="#000"/>
<rect x="649" y="250" width="5" height="17" fill="#000"/>
<rect x="659" y="228" width="1" height="47" fill="#000"/>
<rect x="657" y="230" width="5" height="37" fill="#000"/>
<rect x="658" y="231" width="3" height="35" fill="#fff"/>
<rect x="667" y="201" width="1" height="33" fill="#000"/>
<rect x="665" y="206" width="5" height="25" fill="#000"/>
<rect x="666" y="207" width="3" height="23" fill="#fff"/>
<rect x="675" y="197" width="1" height="14" fill="#000"/>
<rect x="673" y="205" width="5" height="2" fill="#000"/>
<rect x="683" y="198" width="1" height="10" fill="#000"/>
<rect x="681" y="201" width="5" height="5" fill="#000"/>
<rect x="682" y="202" width="3" height="3" fill="#fff"/>
<rect x="691" y="201" width="1" height="38" fill="#000"/>
<rect x="689" y="201" width="5" height="37" fill="#000"/>
<rect x="699" y="223" width="1" height="18" fill="#000"/>
<rect x="697" y="224" width="5" height="15" fill="#000"/>
<rect x="698" y="225" width="3" height="13" fill="#fff"/>
<rect x="707" y="217" width="1" height="13" fill="#000"/>
<rect x="705" y="220" width="5" height="6" fill="#000"/>
<rect x="706" y="221" width="3" height="4" fill="#fff"/>
<rect x="715" y="202" width="1" height="21" fill="#000"/>
<rect x="713" y="209" width="5" height="12" fill="#000"/>
<rect x="714" y="210" width="3" height="10" fill="#fff"/>
<rect x="723" y="189" width="1" height="25" fill="#000"/>
<rect x="721" y="192" width="5" height="18" fill="#000"/>
<rect x="722" y="193" width="3" height="16" fill="#fff"/>
<rect x="731" y="179" width="1" height="31" fill="#000"/>
<rect x="729" y="182" width="5" height="11" fill="#000"/>
<rect x="730" y="183" width="3" height="9" fill="#fff"/>
<rect x="739" y="179" width="1" height="20" fill="#000"/>
<rect x="737" y="182" width="5" height="14" fill="#000"/>
<rect x="747" y="194" width="1" height="15" fill="#000"/>
<rect x="745" y="195" width="5" height="8" fill="#000"/>
<rect x="755" y="191" width="1" height="14" fill="#000"/>
<rect x="753" y="191" width="5" height="12" fill="#000"/>
<rect x="754" y="192" width="3" height="10" fill="#fff"/>
<rect x="763" y="189" width="1" height="9" fill="#000"/>
<rect x="761" y="191" width="5" height="5" fill="#000"/>
<rect x="771" y="192" width="1" height="21" fill="#000"/>
<rect x="769" y="194" width="5" height="2" fill="#000"/>
<rect x="779" y="173" width="1" height="28" fill="#000"/>
<rect x="777" y="194" width="5" height="2" fill="#000"/>
<rect x="787" y="187" width="1" height="46" fill="#000"/>
<rect x="785" y="195" width="5" height="26" fill="#000"/>
<rect x="795" y="220" width="1" height="33" fill="#000"/>
<rect x="793" y="221" width="5" height="23" fill="#000"/>
<rect x="803" y="231" width="1" height="26" fill="#000"/>
<rect x="801" y="244" width="5" height="5" fill="#000"/>
<rect x="811" y="228" width="1" height="29" fill="#000"/>
<rect x="809" y="232" width="5" height="17" fill="#000"/>
<rect x="810" y="233" width="3" height="15" fill="#fff"/>
<rect x="819" y="222" width="1" height="52" fill="#000"/>
<rect x="817" y="232" width="5" height="26" fill="#000"/>
<rect x="827" y="239" width="1" height="26" fill="#000"/>
<rect x="825" y="243" width="5" height="15" fill="#000"/>
<rect x="826" y="244" width="3" height="13" fill="#fff"/>
<rect x="835" y="232" width="1" height="43" fill="#000"/>
<rect x="833" y="243" width="5" height="16" fill="#000"/>
<rect x="843" y="205" width="1" height="65" fill="#000"/>
<rect x="841" y="220" width="5" height="39" fill="#000"/>
<rect x="842" y="221" width="3" height="37" fill="#fff"/>
<rect x="851" y="204" width="1" height="57" fill="#000"/>
<rect x="849" y="219" width="5" height="42" fill="#000"/>
<rect x="859" y="240" width="1" height="21" fill="#000"/>
<rect x="857" y="250" width="5" height="11" fill="#000"/>
<rect x="858" y="251" width="3" height="9" fill="#fff"/>
<rect x="867" y="230" width="1" height="23" fill="#000"/>
<rect x="865" y="233" width="5" height="18" fill="#000"/>
<rect x="866" y="234" width="3" height="16" fill="#fff"/>
<rect x="875" y="223" width="1" height="36" fill="#000"/>
<rect x="873" y="233" width="5" height="22" fill="#000"/>
<rect x="883" y="240" width="1" height="21" fill="#000"/>
<rect x="881" y="247" width="5" height="8" fill="#000"/>
<rect x="882" y="248" width="3" height="6" fill="#fff"/>
<rect x="891" y="243" width="1" height="16" fill="#000"/>
<rect x="889" y="244" width="5" height="4" fill="#000"/>
<rect x="890" y="245" width="3" height="2" fill="#fff"/>
<rect x="899" y="235" width="1" height="17" fill="#000"/>
<rect x="897" y="243" width="5" height="3" fill="#000"/>
<rect x="907" y="230" width="1" height="28" fill="#000"/>
<rect x="905" y="239" width="5" height="6" fill="#000"/>
<rect x="906" y="240" width="3" height="4" fill="#fff"/>
<rect x="915" y="223" width="1" height="21" fill="#000"/>
<rect x="913" y="230" width="5" height="11" fill="#000"/>
<rect x="914" y="231" width="3" height="9" fill="#fff"/>
<rect x="923" y="204" width="1" height="43" fill="#000"/>
<rect x="921" y="221" width="5" height="10" fill="#000"/>
<rect x="922" y="222" width="3" height="8" fill="#fff"/>
<rect x="931" y="213" width="1" height="25" fill="#000"/>
<rect x="929" y="221" width="5" height="8" fill="#000"/>
<rect x="939" y="225" width="1" height="15" fill="#000"/>
<rect x="937" y="228" width="5" height="9" fill="#000"/>
<rect x="947" y="235" width="1" height="13" fill="#000"/>
<rect x="945" y="236" width="5" height="9" fill="#000"/>
<rect x="955" y="244" width="1" height="8" fill="#000"/>
<rect x="953" y="244" width="5" height="2" fill="#000"/>
<rect x="963" y="224" width="1" height="31" fill="#000"/>
<rect x="961" y="225" width="5" height="21" fill="#000"/>
<rect x="962" y="226" width="3" height="19" fill="#fff"/>
<rect x="971" y="216" width="1" height="19" fill="#000"/>
<rect x="969" y="225" width="5" height="5" fill="#000"/>
<rect x="979" y="185" width="1" height="53" fill="#000"/>
<rect x="977" y="199" width="5" height="30" fill="#000"/>
<rect x="978" y="200" width="3" height="28" fill="#fff"/>
<rect x="987" y="185" width="1" height="37" fill="#000"/>
<rect x="985" y="199" width="5" height="14" fill="#000"/>
<rect x="995" y="207" width="1" height="35" fill="#000"/>
<rect x="993" y="212" width="5" height="12" fill="#000"/>
<rect x="1003" y="196" width="1" height="32" fill="#000"/>
<rect x="1001" y="211" width="5" height="12" fill="#000"/>
<rect x="1002" y="212" width="3" height="10" fill="#fff"/>
<rect x="1011" y="190" width="1" height="43" fill="#000"/>
<rect x="1009" y="210" width="5" height="19" fill="#000"/>
<rect x="1019" y="224" width="1" height="77" fill="#000"/>
<rect x="1017" y="227" width="5" height="53" fill="#000"/>
<rect x="1027" y="266" width="1" height="24" fill="#000"/>
<rect x="1025" y="279" width="5" height="3" fill="#000"/>
<rect x="1035" y="276" width="1" height="59" fill="#000"/>
<rect x="1033" y="281" width="5" height="24" fill="#000"/>
<rect x="1043" y="257" width="1" height="50" fill="#000"/>
<rect x="1041" y="259" width="5" height="46" fill="#000"/>
<rect x="1042" y="260" width="3" height="44" fill="#fff"/>
<rect x="1051" y="248" width="1" height="17" fill="#000"/>
<rect x="1049" y="260" width="5" height="2" fill="#000"/>
<rect x="1059" y="242" width="1" height="25" fill="#000"/>
<rect x="1057" y="253" width="5" height="8" fill="#000"/>
<rect x="1058" y="254" width="3" height="6" fill="#fff"/>
<rect x="1067" y="239" width="1" height="19" fill="#000"/>
<rect x="1065" y="247" width="5" height="7" fill="#000"/>
<rect x="1066" y="248" width="3" height="5" fill="#fff"/>
<rect x="1075" y="198" width="1" height="49" fill="#000"/>
<rect x="1073" y="203" width="5" height="44" fill="#000"/>
<rect x="1074" y="204" width="3" height="42" fill="#fff"/>
<rect x="1083" y="186" width="1" height="28" fill="#000"/>
<rect x="1081" y="201" width="5" height="3" fill="#000"/>
<rect x="1082" y="202" width="3" height="1" fill="#fff"/>
<rect x="1091" y="192" width="1" height="27" fill="#000"/>
<rect x="1089" y="208" width="5" height="5" fill="#000"/>
<rect x="1090" y="209" width="3" height="3" fill="#fff"/>
<rect x="1099" y="193" width="1" height="18" fill="#000"/>
<rect x="1097" y="196" width="5" height="13" fill="#000"/>
<rect x="1098" y="197" width="3" height="11" fill="#fff"/>
<rect x="1107" y="197" width="1" height="22" fill="#000"/>
<rect x="1105" y="200" width="5" height="14" fill="#000"/>
<rect x="1115" y="208" width="1" height="18" fill="#000"/>
<rect x="1113" y="212" width="5" height="13" fill="#000"/>
<rect x="1123" y="211" width="1" height="17" fill="#000"/>
<rect x="1121" y="218" width="5" height="7" fill="#000"/>
<rect x="1122" y="219" width="3" height="5" fill="#fff"/>
<rect x="1131" y="196" width="1" height="23" fill="#000"/>
<rect x="1129" y="198" width="5" height="21" fill="#000"/>
<rect x="1130" y="199" width="3" height="19" fill="#fff"/>
<rect x="1139" y="178" width="1" height="24" fill="#000"/>
<rect x="1137" y="181" width="5" height="18" fill="#000"/>
<rect x="1138" y="182" width="3" height="16" fill="#fff"/>
<rect x="1147" y="166" width="1" height="16" fill="#000"/>
<rect x="1145" y="177" width="5" height="4" fill="#000"/>
<rect x="1146" y="178" width="3" height="2" fill="#fff"/>
<rect x="1155" y="168" width="1" height="19" fill="#000"/>
<rect x="1153" y="171" width="5" height="7" fill="#000"/>
<rect x="1154" y="172" width="3" height="5" fill="#fff"/>
<rect x="1163" y="153" width="1" height="48" fill="#000"/>
<rect x="1161" y="156" width="5" height="16" fill="#000"/>
<rect x="1162" y="157" width="3" height="14" fill="#fff"/>
<rect x="1171" y="108" width="1" height="49" fill="#000"/>
<rect x="1169" y="109" width="5" height="48" fill="#000"/>
<rect x="1170" y="110" width="3" height="46" fill="#fff"/>
<rect x="1179" y="75" width="1" height="44" fill="#000"/>
<rect x="1177" y="82" width="5" height="28" fill="#000"/>
<rect x="1178" y="83" width="3" height="26" fill="#fff"/>
<rect x="1187" y="45" width="1" height="42" fill="#000"/>
<rect x="1185" y="62" width="5" height="20" fill="#000"/>
<rect x="1186" y="63" width="3" height="18" fill="#fff"/>
<rect x="1195" y="41" width="1" height="34" fill="#000"/>
<rect x="1193" y="60" width="5" height="3" fill="#000"/>
<rect x="1194" y="61" width="3" height="1" fill="#fff"/>
<rect x="1203" y="43" width="1" height="30" fill="#000"/>
<rect x="1201" y="60" width="5" height="9" fill="#000"/>
<rect x="1211" y="49" width="1" height="53" fill="#000"/>
<rect x="1209" y="68" width="5" height="32" fill="#000"/>
<rect x="1219" y="29" width="1" height="79" fill="#000"/>
<rect x="1217" y="33" width="5" height="67" fill="#000"/>
<rect x="1218" y="34" width="3" height="65" fill="#fff"/>
<rect x="1227" y="30" width="1" height="57" fill="#000"/>
<rect x="1225" y="33" width="5" height="42" fill="#000"/>
<rect x="1235" y="51" width="1" height="40" fill="#000"/>
<rect x="1233" y="62" width="5" height="12" fill="#000"/>
<rect x="1234" y="63" width="3" height="10" fill="#fff"/>
<rect x="1243" y="39" width="1" height="63" fill="#000"/>
<rect x="1241" y="62" width="5" height="37" fill="#000"/>
<rect x="1251" y="96" width="1" height="122" fill="#000"/>
<rect x="1249" y="98" width="5" height="76" fill="#000"/>
<rect x="1259" y="143" width="1" height="42" fill="#000"/>
<rect x="1257" y="160" width="5" height="14" fill="#000"/>
<rect x="1258" y="161" width="3" height="12" fill="#fff"/>
<rect x="1267" y="156" width="1" height="57" fill="#000"/>
<rect x="1265" y="160" width="5" height="52" fill="#000"/>
<rect x="1275" y="178" width="1" height="34" fill="#000"/>
<rect x="1273" y="181" width="5" height="31" fill="#000"/>
<rect x="1274" y="182" width="3" height="29" fill="#fff"/>
<rect x="1283" y="167" width="1" height="28" fill="#000"/>
<rect x="1281" y="170" width="5" height="17" fill="#000"/>
<rect x="1282" y="171" width="3" height="15" fill="#fff"/>
<rect x="1291" y="167" width="1" height="57" fill="#000"/>
<rect x="1289" y="170" width="5" height="54" fill="#000"/>
<rect x="1299" y="202" width="1" height="67" fill="#000"/>
<rect x="1297" y="222" width="5" height="5" fill="#000"/>
<rect x="1307" y="207" width="1" height="33" fill="#000"/>
<rect x="1305" y="209" width="5" height="18" fill="#000"/>
<rect x="1306" y="210" width="3" height="16" fill="#fff"/>
<rect x="1315" y="167" width="1" height="48" fill="#000"/>
<rect x="1313" y="190" width="5" height="20" fill="#000"/>
<rect x="1314" y="191" width="3" height="18" fill="#fff"/>
<rect x="1323" y="183" width="1" height="37" fill="#000"/>
<rect x="1321" y="190" width="5" height="30" fill="#000"/>
<rect x="1331" y="215" width="1" height="38" fill="#000"/>
<rect x="1329" y="219" width="5" height="12" fill="#000"/>
<rect x="1339" y="219" width="1" height="24" fill="#000"/>
<rect x="1337" y="230" width="5" height="3" fill="#000"/>
<rect x="1347" y="219" width="1" height="30" fill="#000"/>
<rect x="1345" y="231" width="5" height="2" fill="#000"/>
<rect x="1355" y="229" width="1" height="61" fill="#000"/>
<rect x="1353" y="231" width="5" height="47" fill="#000"/>
<rect x="1363" y="219" width="1" height="60" fill="#000"/>
<rect x="1361" y="242" width="5" height="36" fill="#000"/>
<rect x="1362" y="243" width="3" height="34" fill="#fff"/>
<rect x="1371" y="239" width="1" height="65" fill="#000"/>
<rect x="1369" y="242" width="5" height="57" fill="#000"/>
<rect x="1379" y="288" width="1" height="36" fill="#000"/>
<rect x="1377" y="298" width="5" height="25" fill="#000"/>
<rect x="1387" y="300" width="1" height="73" fill="#000"/>
<rect x="1385" y="322" width="5" height="17" fill="#000"/>
<rect x="1395" y="304" width="1" height="45" fill="#000"/>
<rect x="1393" y="321" width="5" height="18" fill="#000"/>
<rect x="1394" y="322" width="3" height="16" fill="#fff"/>
<rect x="1403" y="298" width="1" height="47" fill="#000"/>
<rect x="1401" y="301" width="5" height="21" fill="#000"/>
<rect x="1402" y="302" width="3" height="19" fill="#fff"/>
<rect x="1411" y="268" width="1" height="51" fill="#000"/>
<rect x="1409" y="298" width="5" height="4" fill="#000"/>
<rect x="1410" y="299" width="3" height="2" fill="#fff"/>
<rect x="1419" y="261" width="1" height="74" fill="#000"/>
<rect x="1417" y="266" width="5" height="33" fill="#000"/>
<rect x="1418" y="267" width="3" height="31" fill="#fff"/>
<rect x="1427" y="265" width="1" height="112" fill="#000"/>
<rect x="1425" y="267" width="5" height="108" fill="#000"/>
<rect x="1435" y="369" width="1" height="47" fill="#000"/>
<rect x="1433" y="374" width="5" height="27" fill="#000"/>
<rect x="1443" y="386" width="1" height="34" fill="#000"/>
<rect x="1441" y="394" width="5" height="7" fill="#000"/>
<rect x="1442" y="395" width="3" height="5" fill="#fff"/>
<rect x="1451" y="377" width="1" height="32" fill="#000"/>
<rect x="1449" y="393" width="5" height="14" fill="#000"/>
<rect x="1459" y="402" width="1" height="28" fill="#000"/>
<rect x="1457" y="406" width="5" height="24" fill="#000"/>
<rect x="1467" y="407" width="1" height="19" fill="#000"/>
<rect x="1465" y="415" width="5" height="9" fill="#000"/>
<rect x="1466" y="416" width="3" height="7" fill="#fff"/>
<rect x="1475" y="373" width="1" height="48" fill="#000"/>
<rect x="1473" y="382" width="5" height="36" fill="#000"/>
<rect x="1474" y="383" width="3" height="34" fill="#fff"/>
</g>
<rect x="3" y="427" width="5" height="5" fill="#ff0000"/><rect x="4" y="428" width="3" height="3" fill="#fff"/>
<rect x="1491" y="427" width="5" height="5" fill="#ff0000"/><rect x="1492" y="428" width="3" height="3" fill="#fff"/>
<g clip-path="url(#cd)">
<path fill="none" stroke="#c0c0c0" stroke-width="1" d="M215.5 710v2M1187.5 583v2M792.5 620v2M1429.5 766v2M1248.5 582v3M1369.5 730v2M1186.5 585v2M1014.5 658v2M1182.5 593v2M257.5 657v2M1279.5 645v2M426.5 586v2M1178.5 600v2M1353.5 717v2M1073.5 675v2M794.5 623v2M1034.5 684v2M1431.5 769v2M1243.5 570v2M1181.5 595v2M1247.5 580v2M1177.5 602v2M410.5 609v2M1293.5 668v2M1257.5 602v2M1012.5 655v2M1254.5 596v2M1173.5 609v2M1016.5 661v2M1267.5 628v2M409.5 611v2M1381.5 748v2M405.5 619v2M1172.5 611v2M1433.5 772v2M1168.5 618v2M1455.5 795v2M671.5 607v2M1164.5 625v2M1295.5 671v2M1255.5 598v2M1292.5 666v2M1256.5 600v2M1018.5 664v2M1028.5 676v2M1262.5 614v3M1183.5 591v2M1266.5 625v3M61.5 752v2M1270.5 633v2M1284.5 651v2M1365.5 725v2M1383.5 751v2M1439.5 780v2M421.5 594v2M1297.5 674v2M1261.5 612v2M790.5 617v2M1031.5 680v2M1239.5 565v2M63.5 755v2M60.5 750v2M1286.5 655v2M217.5 706v2M1250.5 588v2M1385.5 754v2M212.5 716v2M1420.5 752v2M1245.5 574v3M489.5 597v2M1249.5 585v3M1215.5 564v2M1259.5 606v3M1422.5 755v2M223.5 696v2M1244.5 572v2M253.5 662v2M1372.5 734v2M406.5 617v2M1264.5 620v3M1424.5 758v2M1268.5 630v2M591.5 653v2M1189.5 580v2M1185.5 587v2M1434.5 774v2M425.5 588v2M1374.5 737v2M663.5 616v2M404.5 621v2M1263.5 617v3M1184.5 589v2M1285.5 653v2M1288.5 659v2M1252.5 592v2M420.5 596v2M495.5 604v2M218.5 704v2M1298.5 676v2M1272.5 636v2M1349.5 712v2M213.5 714v2M1174.5 607v2M1386.5 756v2M1193.5 575v2M1023.5 670v2M1274.5 639v2M66.5 760v2M788.5 614v2M1426.5 761v2M239.5 677v2M1180.5 597v2M423.5 591v2M1176.5 604v2M1376.5 740v2M214.5 712v2M1258.5 604v2M1428.5 764v2M1290.5 663v2M1169.5 616v2M1165.5 623v2M1378.5 743v2M413.5 605v2M1289.5 661v2M799.5 629v2M1415.5 755v2M408.5 613v2M1380.5 746v2M65.5 758v2M1287.5 657v2M1251.5 590v2M1265.5 623v2M1170.5 614v2M1166.5 621v2M1069.5 680v2M221.5 699v2M1246.5 577v3M1253.5 594v2M1260.5 609v3M417.5 600v2M220.5 701v2M216.5 708v2M1079.5 668v2M407.5 615v2M226.5 691v2M225.5 693v2M815.5 643v2M485.5 592v2M492 601.5h1M678 601.5h1M690 601.5h5M717 601.5h4M761 601.5h4M207 720.5h2M1355 720.5h2M233 684.5h1M1061 684.5h4M1306 684.5h1M7 728.5h5M195 728.5h1M1367 728.5h1M295 641.5h3M576 641.5h2M629 641.5h1M813 641.5h1M1140 641.5h2M1275 641.5h1M68 763.5h1M132 763.5h2M1395 763.5h4M1427 763.5h1M517 618.5h4M662 618.5h1M594 657.5h1M609 657.5h2M832 657.5h1M841 657.5h3M980 657.5h2M1013 657.5h1M1094 657.5h1M337 623.5h4M357 623.5h2M402 623.5h2M533 623.5h4M656 623.5h1M252 664.5h1M850 664.5h1M925 664.5h4M941 664.5h4M969 664.5h3M1083 664.5h1M521 619.5h4M661 619.5h1M791 619.5h1M235 682.5h1M1032 682.5h1M1068 682.5h1M1303 682.5h2M211 718.5h1M329 625.5h4M362 625.5h2M398 625.5h2M540 625.5h2M653 625.5h2M795 625.5h1M416 602.5h1M493 602.5h1M676 602.5h2M695 602.5h8M711 602.5h6M765 602.5h4M315 631.5h1M552 631.5h2M641 631.5h2M800 631.5h1M1156 631.5h2M427 585.5h1M476 585.5h1M346 620.5h3M525 620.5h2M660 620.5h1M1167 620.5h1M256 659.5h1M596 659.5h2M607 659.5h1M835 659.5h2M845 659.5h1M977 659.5h2M1092 659.5h1M246 670.5h1M879 670.5h8M903 670.5h6M1078 670.5h1M1294 670.5h1M259 655.5h2M592 655.5h1M612 655.5h1M829 655.5h2M984 655.5h2M991 655.5h6M1096 655.5h1M1461 801.5h2M1470 801.5h1M322 627.5h3M366 627.5h1M391 627.5h5M544 627.5h2M650 627.5h2M797 627.5h1M1163 627.5h1M53 748.5h4M153 748.5h1M411 608.5h1M498 608.5h1M780 608.5h1M83 776.5h10M1435 776.5h1M12 729.5h1M194 729.5h1M1368 729.5h1M1218 561.5h1M1223 561.5h13M23 735.5h5M185 735.5h3M288 644.5h2M581 644.5h1M626 644.5h1M1136 644.5h1M1278 644.5h1M849 663.5h1M929 663.5h12M972 663.5h1M1017 663.5h1M1084 663.5h2M231 686.5h1M1035 686.5h4M1053 686.5h4M1309 686.5h2M418 599.5h1M490 599.5h1M681 599.5h2M685 599.5h2M724 599.5h2M751 599.5h6M1179 599.5h1M265 653.5h4M615 653.5h1M827 653.5h1M1001 653.5h6M1098 653.5h1M244 672.5h1M1024 672.5h1M1076 672.5h1M343 621.5h3M349 621.5h4M527 621.5h3M659 621.5h1M278 649.5h2M587 649.5h1M620 649.5h1M820 649.5h2M1128 649.5h2M1282 649.5h1M1445 787.5h2M320 628.5h2M367 628.5h2M377 628.5h14M546 628.5h2M647 628.5h3M798 628.5h1M1161 628.5h2M75 769.5h1M121 769.5h2M428 584.5h2M466 584.5h10M249 667.5h1M857 667.5h6M869 667.5h2M914 667.5h3M953 667.5h6M1020 667.5h1M1080 667.5h1M282 647.5h2M585 647.5h1M622 647.5h1M818 647.5h1M1132 647.5h1M1280 647.5h1M333 624.5h4M359 624.5h3M400 624.5h2M537 624.5h3M655 624.5h1M273 651.5h3M589 651.5h1M617 651.5h2M823 651.5h2M1103 651.5h8M1124 651.5h2M487 595.5h1M731 595.5h4M229 688.5h1M1314 688.5h2M140 759.5h1M1388 759.5h2M1412 759.5h1M17 733.5h2M189 733.5h1M1371 733.5h1M19 734.5h4M188 734.5h1M341 622.5h2M353 622.5h4M530 622.5h3M657 622.5h2M793 622.5h1M3 727.5h4M196 727.5h2M1366 727.5h1M415 603.5h1M494 603.5h1M675 603.5h1M703 603.5h8M769 603.5h3M81 774.5h1M97 774.5h14M309 635.5h2M562 635.5h3M635 635.5h1M804 635.5h2M1150 635.5h1M1271 635.5h1M241 675.5h1M1027 675.5h1M433 581.5h2M458 581.5h3M261 654.5h4M613 654.5h2M828 654.5h1M986 654.5h5M997 654.5h4M1007 654.5h5M1097 654.5h1M201 724.5h2M1364 724.5h1M507 615.5h2M664 615.5h1M236 681.5h1M1302 681.5h1M74 768.5h1M123 768.5h1M1430 768.5h1M204 722.5h2M1359 722.5h3M306 637.5h2M567 637.5h3M633 637.5h1M807 637.5h2M1147 637.5h1M311 634.5h1M559 634.5h3M636 634.5h2M803 634.5h1M1151 634.5h2M440 577.5h2M447 577.5h5M1192 577.5h1M13 730.5h2M193 730.5h1M248 668.5h1M871 668.5h3M911 668.5h3M1021 668.5h1M318 629.5h2M369 629.5h2M373 629.5h4M548 629.5h2M645 629.5h2M1159 629.5h2M15 731.5h1M191 731.5h2M280 648.5h2M586 648.5h1M621 648.5h1M819 648.5h1M1130 648.5h2M1281 648.5h1M602 662.5h2M848 662.5h1M973 662.5h2M1086 662.5h2M1466 803.5h2M293 642.5h2M578 642.5h2M628 642.5h1M814 642.5h1M1139 642.5h1M1276 642.5h1M145 755.5h2M254 661.5h1M600 661.5h2M604 661.5h1M847 661.5h1M975 661.5h1M1088 661.5h2M1459 800.5h2M1471 800.5h2M303 638.5h3M570 638.5h2M632 638.5h1M809 638.5h2M1145 638.5h2M1273 638.5h1M44 743.5h2M159 743.5h2M250 666.5h1M853 666.5h4M863 666.5h6M917 666.5h4M949 666.5h4M959 666.5h6M1019 666.5h1M1081 666.5h1M301 639.5h2M572 639.5h2M631 639.5h1M811 639.5h1M1143 639.5h2M203 723.5h1M1362 723.5h2M67 762.5h1M134 762.5h2M1393 762.5h2M1399 762.5h6M28 736.5h2M181 736.5h4M1373 736.5h1M149 752.5h1M1418 752.5h1M258 656.5h1M593 656.5h1M611 656.5h1M831 656.5h1M982 656.5h2M1095 656.5h1M269 652.5h4M590 652.5h1M616 652.5h1M825 652.5h2M1099 652.5h4M1111 652.5h13M312 633.5h1M557 633.5h2M638 633.5h1M802 633.5h1M1153 633.5h2M31 738.5h2M170 738.5h5M76 770.5h1M119 770.5h2M1196 572.5h1M77 771.5h1M118 771.5h1M1432 771.5h1M316 630.5h2M371 630.5h2M550 630.5h2M643 630.5h2M1158 630.5h1M438 578.5h2M452 578.5h2M1191 578.5h1M504 613.5h1M666 613.5h1M787 613.5h1M1171 613.5h1M442 576.5h5M313 632.5h2M554 632.5h3M639 632.5h2M801 632.5h1M1155 632.5h1M1269 632.5h1M41 742.5h3M161 742.5h2M1377 742.5h1M245 671.5h1M887 671.5h16M1077 671.5h1M1200 569.5h1M1209 569.5h3M1242 569.5h1M230 687.5h1M1039 687.5h14M1311 687.5h3M1458 799.5h1M1473 799.5h2M209 719.5h2M1354 719.5h1M1029 678.5h1M1071 678.5h1M1299 678.5h1M238 679.5h1M1030 679.5h1M1070 679.5h1M1300 679.5h1M1216 563.5h1M1237 563.5h1M484 591.5h1M491 600.5h1M679 600.5h2M687 600.5h3M721 600.5h3M757 600.5h4M284 646.5h2M583 646.5h2M623 646.5h2M817 646.5h1M1133 646.5h2M308 636.5h1M565 636.5h2M634 636.5h1M806 636.5h1M1148 636.5h2M1217 562.5h1M1236 562.5h1M47 745.5h2M156 745.5h2M1379 745.5h1M136 761.5h2M1391 761.5h2M1405 761.5h4M141 758.5h2M1387 758.5h1M1413 758.5h1M286 645.5h2M582 645.5h1M625 645.5h1M816 645.5h1M1135 645.5h1M479 587.5h1M49 746.5h2M155 746.5h1M419 598.5h1M683 598.5h2M726 598.5h1M745 598.5h6M255 660.5h1M598 660.5h2M605 660.5h2M846 660.5h1M976 660.5h1M1015 660.5h1M1090 660.5h2M276 650.5h2M588 650.5h1M619 650.5h1M822 650.5h1M1126 650.5h2M1283 650.5h1M138 760.5h2M1390 760.5h1M1409 760.5h3M1425 760.5h1M1072 677.5h1M1201 568.5h2M1205 568.5h4M1212 568.5h1M1241 568.5h1M325 626.5h4M364 626.5h2M396 626.5h2M542 626.5h2M652 626.5h1M796 626.5h1M251 665.5h1M851 665.5h2M921 665.5h4M945 665.5h4M965 665.5h4M1082 665.5h1M1291 665.5h1M1203 567.5h2M1213 567.5h1M1240 567.5h1M62 754.5h1M147 754.5h1M1416 754.5h1M1421 754.5h1M430 583.5h1M463 583.5h3M488 596.5h1M729 596.5h2M735 596.5h6M247 669.5h1M874 669.5h5M909 669.5h2M1022 669.5h1M1337 705.5h2M436 579.5h2M454 579.5h2M1190 579.5h1M69 764.5h1M130 764.5h2M1437 778.5h1M71 766.5h2M126 766.5h2M481 589.5h2M290 643.5h3M580 643.5h1M627 643.5h1M1137 643.5h2M1277 643.5h1M234 683.5h1M1033 683.5h1M1065 683.5h3M1305 683.5h1M477 586.5h2M298 640.5h3M574 640.5h2M630 640.5h1M812 640.5h1M1142 640.5h1M37 741.5h4M163 741.5h2M206 721.5h1M1357 721.5h2M505 614.5h2M665 614.5h1M16 732.5h1M190 732.5h1M1370 732.5h1M595 658.5h1M608 658.5h1M833 658.5h2M837 658.5h4M844 658.5h1M979 658.5h1M1093 658.5h1M242 674.5h1M1026 674.5h1M1074 674.5h1M82 775.5h1M93 775.5h4M57 749.5h3M152 749.5h1M199 725.5h2M219 703.5h1M1335 703.5h1M1327 697.5h2M414 604.5h1M674 604.5h1M772 604.5h2M30 737.5h1M175 737.5h6M144 756.5h1M1323 693.5h1M64 757.5h1M143 757.5h1M1414 757.5h1M1423 757.5h1M1197 571.5h2M431 582.5h2M461 582.5h2M1188 582.5h1M243 673.5h1M1025 673.5h1M1075 673.5h1M1296 673.5h1M228 689.5h1M1316 689.5h2M499 609.5h1M670 609.5h1M781 609.5h2M1444 786.5h1M424 590.5h1M483 590.5h1M1321 692.5h2M1214 566.5h1M148 753.5h1M1384 753.5h1M1417 753.5h1M513 617.5h4M1436 777.5h1M198 726.5h1M1219 560.5h4M33 739.5h2M167 739.5h3M1375 739.5h1M70 765.5h1M128 765.5h2M486 594.5h1M51 747.5h2M154 747.5h1M151 750.5h1M1382 750.5h1M1463 802.5h3M1468 802.5h2M1438 779.5h1M412 607.5h1M497 607.5h1M778 607.5h2M1344 709.5h2M509 616.5h4M789 616.5h1M503 612.5h1M667 612.5h1M785 612.5h2M79 773.5h2M111 773.5h5M227 690.5h1M1318 690.5h1M232 685.5h1M1057 685.5h4M1307 685.5h2M1440 782.5h1M1451 791.5h1M1441 783.5h1M500 610.5h1M669 610.5h1M783 610.5h1M501 611.5h2M668 611.5h1M784 611.5h1M73 767.5h1M124 767.5h2M46 744.5h1M158 744.5h1M1447 788.5h1M1342 708.5h2M1442 784.5h1M1319 691.5h2M1346 710.5h2M1348 711.5h1M35 740.5h2M165 740.5h2M1340 707.5h2M496 606.5h1M672 606.5h1M776 606.5h2M1175 606.5h1M222 698.5h1M1329 698.5h1M150 751.5h1M1419 751.5h1M1324 694.5h1M1336 704.5h1M480 588.5h1M1194 574.5h1M1331 700.5h1M1332 701.5h1M1449 790.5h2M78 772.5h1M116 772.5h2M1326 696.5h1M237 680.5h1M1301 680.5h1M673 605.5h1M774 605.5h2M240 676.5h1M1352 716.5h1M1333 702.5h2M1195 573.5h1M435 580.5h1M456 580.5h2M1199 570.5h1M1339 706.5h1M727 597.5h2M741 597.5h4M422 593.5h1M1457 798.5h1M1475 798.5h1M1452 792.5h1M1453 793.5h1M1330 699.5h1M1448 789.5h1M224 695.5h1M1325 695.5h1M1443 785.5h1M1454 794.5h1M1350 714.5h1M1351 715.5h1M1456 797.5h1M1238 564.5h1"/>
<rect x="3" y="667" width="1" height="60" fill="#00008b"/>
<rect x="11" y="667" width="1" height="61" fill="#00008b"/>
<rect x="19" y="667" width="1" height="67" fill="#00008b"/>
<rect x="27" y="667" width="1" height="69" fill="#00008b"/>
<rect x="35" y="667" width="1" height="74" fill="#00008b"/>
<rect x="43" y="667" width="1" height="76" fill="#00008b"/>
<rect x="51" y="667" width="1" height="80" fill="#00008b"/>
<rect x="59" y="667" width="1" height="82" fill="#00008b"/>
<rect x="67" y="667" width="1" height="95" fill="#00008b"/>
<rect x="75" y="667" width="1" height="102" fill="#00008b"/>
<rect x="83" y="667" width="1" height="109" fill="#00008b"/>
<rect x="91" y="667" width="1" height="109" fill="#00008b"/>
<rect x="99" y="667" width="1" height="107" fill="#00008b"/>
<rect x="107" y="667" width="1" height="107" fill="#00008b"/>
<rect x="115" y="667" width="1" height="106" fill="#00008b"/>
<rect x="123" y="667" width="1" height="102" fill="#00008b"/>
<rect x="131" y="667" width="1" height="98" fill="#00008b"/>
<rect x="139" y="667" width="1" height="93" fill="#00008b"/>
<rect x="147" y="667" width="1" height="87" fill="#00008b"/>
<rect x="155" y="667" width="1" height="80" fill="#00008b"/>
<rect x="163" y="667" width="1" height="75" fill="#00008b"/>
<rect x="171" y="667" width="1" height="71" fill="#00008b"/>
<rect x="179" y="667" width="1" height="70" fill="#00008b"/>
<rect x="187" y="667" width="1" height="68" fill="#00008b"/>
<rect x="195" y="667" width="1" height="62" fill="#00008b"/>
<rect x="203" y="667" width="1" height="57" fill="#00008b"/>
<rect x="211" y="667" width="1" height="52" fill="#00008b"/>
<rect x="219" y="667" width="1" height="37" fill="#00008b"/>
<rect x="227" y="667" width="1" height="24" fill="#00008b"/>
<rect x="235" y="667" width="1" height="16" fill="#00008b"/>
<rect x="243" y="667" width="1" height="7" fill="#00008b"/>
<rect x="251" y="666" width="1" height="2" fill="#00008b"/>
<rect x="259" y="656" width="1" height="12" fill="#00008b"/>
<rect x="267" y="654" width="1" height="14" fill="#00008b"/>
<rect x="275" y="652" width="1" height="16" fill="#00008b"/>
<rect x="283" y="648" width="1" height="20" fill="#00008b"/>
<rect x="291" y="644" width="1" height="24" fill="#00008b"/>
<rect x="299" y="641" width="1" height="27" fill="#00008b"/>
<rect x="307" y="638" width="1" height="30" fill="#00008b"/>
<rect x="315" y="632" width="1" height="36" fill="#00008b"/>
<rect x="323" y="628" width="1" height="40" fill="#00008b"/>
<rect x="331" y="626" width="1" height="42" fill="#00008b"/>
<rect x="339" y="624" width="1" height="44" fill="#00008b"/>
<rect x="347" y="620" width="1" height="48" fill="#00008b"/>
<rect x="355" y="622" width="1" height="46" fill="#00008b"/>
<rect x="363" y="626" width="1" height="42" fill="#00008b"/>
<rect x="371" y="630" width="1" height="38" fill="#00008b"/>
<rect x="379" y="629" width="1" height="39" fill="#00008b"/>
<rect x="387" y="629" width="1" height="39" fill="#00008b"/>
<rect x="395" y="628" width="1" height="40" fill="#00008b"/>
<rect x="403" y="623" width="1" height="45" fill="#00008b"/>
<rect x="411" y="608" width="1" height="60" fill="#00008b"/>
<rect x="419" y="598" width="1" height="70" fill="#00008b"/>
<rect x="427" y="586" width="1" height="82" fill="#00008b"/>
<rect x="435" y="580" width="1" height="88" fill="#00008b"/>
<rect x="443" y="576" width="1" height="92" fill="#00008b"/>
<rect x="451" y="578" width="1" height="90" fill="#00008b"/>
<rect x="459" y="582" width="1" height="86" fill="#00008b"/>
<rect x="467" y="584" width="1" height="84" fill="#00008b"/>
<rect x="475" y="584" width="1" height="84" fill="#00008b"/>
<rect x="483" y="590" width="1" height="78" fill="#00008b"/>
<rect x="491" y="601" width="1" height="67" fill="#00008b"/>
<rect x="499" y="609" width="1" height="59" fill="#00008b"/>
<rect x="507" y="616" width="1" height="52" fill="#00008b"/>
<rect x="515" y="618" width="1" height="50" fill="#00008b"/>
<rect x="523" y="620" width="1" height="48" fill="#00008b"/>
<rect x="531" y="623" width="1" height="45" fill="#00008b"/>
<rect x="539" y="625" width="1" height="43" fill="#00008b"/>
<rect x="547" y="629" width="1" height="39" fill="#00008b"/>
<rect x="555" y="633" width="1" height="35" fill="#00008b"/>
<rect x="563" y="636" width="1" height="32" fill="#00008b"/>
<rect x="571" y="639" width="1" height="29" fill="#00008b"/>
<rect x="579" y="642" width="1" height="26" fill="#00008b"/>
<rect x="587" y="649" width="1" height="19" fill="#00008b"/>
<rect x="595" y="658" width="1" height="10" fill="#00008b"/>
<rect x="603" y="662" width="1" height="6" fill="#00008b"/>
<rect x="611" y="657" width="1" height="11" fill="#00008b"/>
<rect x="619" y="650" width="1" height="18" fill="#00008b"/>
<rect x="627" y="644" width="1" height="24" fill="#00008b"/>
<rect x="635" y="635" width="1" height="33" fill="#00008b"/>
<rect x="643" y="630" width="1" height="38" fill="#00008b"/>
<rect x="651" y="628" width="1" height="40" fill="#00008b"/>
<rect x="659" y="621" width="1" height="47" fill="#00008b"/>
<rect x="667" y="612" width="1" height="56" fill="#00008b"/>
<rect x="675" y="604" width="1" height="64" fill="#00008b"/>
<rect x="683" y="599" width="1" height="69" fill="#00008b"/>
<rect x="691" y="602" width="1" height="66" fill="#00008b"/>
<rect x="699" y="603" width="1" height="65" fill="#00008b"/>
<rect x="707" y="604" width="1" height="64" fill="#00008b"/>
<rect x="715" y="603" width="1" height="65" fill="#00008b"/>
<rect x="723" y="600" width="1" height="68" fill="#00008b"/>
<rect x="731" y="596" width="1" height="72" fill="#00008b"/>
<rect x="739" y="597" width="1" height="71" fill="#00008b"/>
<rect x="747" y="599" width="1" height="69" fill="#00008b"/>
<rect x="755" y="600" width="1" height="68" fill="#00008b"/>
<rect x="763" y="602" width="1" height="66" fill="#00008b"/>
<rect x="771" y="604" width="1" height="64" fill="#00008b"/>
<rect x="779" y="607" width="1" height="61" fill="#00008b"/>
<rect x="787" y="614" width="1" height="54" fill="#00008b"/>
<rect x="795" y="625" width="1" height="43" fill="#00008b"/>
<rect x="803" y="635" width="1" height="33" fill="#00008b"/>
<rect x="811" y="640" width="1" height="28" fill="#00008b"/>
<rect x="819" y="649" width="1" height="19" fill="#00008b"/>
<rect x="827" y="654" width="1" height="14" fill="#00008b"/>
<rect x="835" y="660" width="1" height="8" fill="#00008b"/>
<rect x="843" y="658" width="1" height="10" fill="#00008b"/>
<rect x="851" y="665" width="1" height="3" fill="#00008b"/>
<rect x="859" y="667" width="1" height="1" fill="#00008b"/>
<rect x="867" y="667" width="1" height="1" fill="#00008b"/>
<rect x="875" y="667" width="1" height="2" fill="#00008b"/>
<rect x="883" y="667" width="1" height="3" fill="#00008b"/>
<rect x="891" y="667" width="1" height="4" fill="#00008b"/>
<rect x="899" y="667" width="1" height="4" fill="#00008b"/>
<rect x="907" y="667" width="1" height="3" fill="#00008b"/>
<rect x="915" y="667" width="1" height="1" fill="#00008b"/>
<rect x="923" y="665" width="1" height="3" fill="#00008b"/>
<rect x="931" y="664" width="1" height="4" fill="#00008b"/>
<rect x="939" y="664" width="1" height="4" fill="#00008b"/>
<rect x="947" y="666" width="1" height="2" fill="#00008b"/>
<rect x="955" y="667" width="1" height="1" fill="#00008b"/>
<rect x="963" y="666" width="1" height="2" fill="#00008b"/>
<rect x="971" y="664" width="1" height="4" fill="#00008b"/>
<rect x="979" y="658" width="1" height="10" fill="#00008b"/>
<rect x="987" y="655" width="1" height="13" fill="#00008b"/>
<rect x="995" y="656" width="1" height="12" fill="#00008b"/>
<rect x="1003" y="654" width="1" height="14" fill="#00008b"/>
<rect x="1011" y="655" width="1" height="13" fill="#00008b"/>
<rect x="1019" y="667" width="1" height="1" fill="#00008b"/>
<rect x="1027" y="667" width="1" height="8" fill="#00008b"/>
<rect x="1035" y="667" width="1" height="19" fill="#00008b"/>
<rect x="1043" y="667" width="1" height="20" fill="#00008b"/>
<rect x="1051" y="667" width="1" height="20" fill="#00008b"/>
<rect x="1059" y="667" width="1" height="18" fill="#00008b"/>
<rect x="1067" y="667" width="1" height="16" fill="#00008b"/>
<rect x="1075" y="667" width="1" height="6" fill="#00008b"/>
<rect x="1083" y="665" width="1" height="3" fill="#00008b"/>
<rect x="1091" y="660" width="1" height="8" fill="#00008b"/>
<rect x="1099" y="653" width="1" height="15" fill="#00008b"/>
<rect x="1107" y="652" width="1" height="16" fill="#00008b"/>
<rect x="1115" y="652" width="1" height="16" fill="#00008b"/>
<rect x="1123" y="652" width="1" height="16" fill="#00008b"/>
<rect x="1131" y="649" width="1" height="19" fill="#00008b"/>
<rect x="1139" y="643" width="1" height="25" fill="#00008b"/>
<rect x="1147" y="638" width="1" height="30" fill="#00008b"/>
<rect x="1155" y="633" width="1" height="35" fill="#00008b"/>
<rect x="1163" y="627" width="1" height="41" fill="#00008b"/>
<rect x="1171" y="614" width="1" height="54" fill="#00008b"/>
<rect x="1179" y="599" width="1" height="69" fill="#00008b"/>
<rect x="1187" y="584" width="1" height="84" fill="#00008b"/>
<rect x="1195" y="573" width="1" height="95" fill="#00008b"/>
<rect x="1203" y="568" width="1" height="100" fill="#00008b"/>
<rect x="1211" y="570" width="1" height="98" fill="#00008b"/>
<rect x="1219" y="561" width="1" height="107" fill="#00008b"/>
<rect x="1227" y="562" width="1" height="106" fill="#00008b"/>
<rect x="1235" y="562" width="1" height="106" fill="#00008b"/>
<rect x="1243" y="571" width="1" height="97" fill="#00008b"/>
<rect x="1251" y="592" width="1" height="76" fill="#00008b"/>
<rect x="1259" y="608" width="1" height="60" fill="#00008b"/>
<rect x="1267" y="630" width="1" height="38" fill="#00008b"/>
<rect x="1275" y="642" width="1" height="26" fill="#00008b"/>
<rect x="1283" y="650" width="1" height="18" fill="#00008b"/>
<rect x="1291" y="666" width="1" height="2" fill="#00008b"/>
<rect x="1299" y="667" width="1" height="11" fill="#00008b"/>
<rect x="1307" y="667" width="1" height="19" fill="#00008b"/>
<rect x="1315" y="667" width="1" height="21" fill="#00008b"/>
<rect x="1323" y="667" width="1" height="27" fill="#00008b"/>
<rect x="1331" y="667" width="1" height="34" fill="#00008b"/>
<rect x="1339" y="667" width="1" height="40" fill="#00008b"/>
<rect x="1347" y="667" width="1" height="43" fill="#00008b"/>
<rect x="1355" y="667" width="1" height="54" fill="#00008b"/>
<rect x="1363" y="667" width="1" height="56" fill="#00008b"/>
<rect x="1371" y="667" width="1" height="67" fill="#00008b"/>
<rect x="1379" y="667" width="1" height="79" fill="#00008b"/>
<rect x="1387" y="667" width="1" height="91" fill="#00008b"/>
<rect x="1395" y="667" width="1" height="96" fill="#00008b"/>
<rect x="1403" y="667" width="1" height="95" fill="#00008b"/>
<rect x="1411" y="667" width="1" height="93" fill="#00008b"/>
<rect x="1419" y="667" width="1" height="85" fill="#00008b"/>
<rect x="1427" y="667" width="1" height="96" fill="#00008b"/>
<rect x="1435" y="667" width="1" height="110" fill="#00008b"/>
<rect x="1443" y="667" width="1" height="118" fill="#00008b"/>
<rect x="1451" y="667" width="1" height="125" fill="#00008b"/>
<rect x="1459" y="667" width="1" height="134" fill="#00008b"/>
<rect x="1467" y="667" width="1" height="136" fill="#00008b"/>
<rect x="1475" y="667" width="1" height="131" fill="#00008b"/>
<path fill="none" stroke="#000" stroke-width="1" d="M1329.5 667v2M1295.5 614v2M1191.5 621v2M1215.5 595v2M1279.5 592v2M1292.5 609v2M255.5 697v2M1305.5 631v2M1306.5 633v2M1309.5 638v2M1297.5 617v2M1298.5 619v2M1318.5 652v2M1284.5 598v2M1320.5 655v2M1290.5 606v2M1308.5 636v2M1300.5 622v2M1302.5 626v2M1322.5 658v2M1287.5 602v2M1311.5 641v2M1314.5 646v2M1316.5 649v2M1313.5 644v2M1301.5 624v2M1199.5 612v2M1304.5 629v2M1325.5 662v2M1293.5 611v2M294 660.5h1M878 660.5h2M1007 660.5h16M1128 660.5h2M1323 660.5h1M316 646.5h2M615 646.5h3M645 646.5h4M853 646.5h2M1157 646.5h2M468 589.5h2M502 589.5h2M1221 589.5h1M1276 589.5h1M451 600.5h1M523 600.5h1M737 600.5h46M1211 600.5h1M1285 600.5h1M303 654.5h2M866 654.5h2M1140 654.5h2M1319 654.5h1M275 677.5h1M1073 677.5h6M1087 677.5h6M1338 677.5h1M76 746.5h2M192 746.5h2M1419 746.5h1M332 639.5h2M598 639.5h2M663 639.5h2M845 639.5h1M1171 639.5h1M248 705.5h1M1369 705.5h2M474 586.5h3M495 586.5h3M1225 586.5h1M1273 586.5h1M71 743.5h2M198 743.5h1M1414 743.5h1M1230 581.5h1M1268 581.5h1M284 668.5h1M911 668.5h32M1050 668.5h2M1112 668.5h2M327 641.5h3M602 641.5h3M660 641.5h2M847 641.5h2M1167 641.5h2M290 663.5h1M885 663.5h4M983 663.5h8M1033 663.5h4M1122 663.5h2M308 651.5h2M860 651.5h2M1146 651.5h2M1317 651.5h1M285 667.5h1M903 667.5h8M943 667.5h16M1047 667.5h3M1114 667.5h2M470 588.5h2M500 588.5h2M1222 588.5h1M1275 588.5h1M1247 571.5h6M127 770.5h16M1455 770.5h2M424 618.5h2M553 618.5h2M692 618.5h2M817 618.5h2M1194 618.5h1M357 629.5h4M578 629.5h3M677 629.5h1M832 629.5h1M1184 629.5h1M37 732.5h4M216 732.5h1M1399 732.5h1M292 661.5h2M880 661.5h2M999 661.5h8M1023 661.5h6M1126 661.5h2M1324 661.5h1M477 585.5h4M493 585.5h2M1226 585.5h1M1272 585.5h1M233 719.5h1M1385 719.5h1M291 662.5h1M882 662.5h3M991 662.5h8M1029 662.5h4M1124 662.5h2M114 766.5h3M152 766.5h2M1449 766.5h2M310 650.5h1M859 650.5h1M1148 650.5h2M63 739.5h3M204 739.5h2M1408 739.5h1M94 757.5h2M170 757.5h2M1435 757.5h1M242 711.5h1M1377 711.5h1M481 584.5h12M1227 584.5h1M1271 584.5h1M433 613.5h2M545 613.5h2M701 613.5h2M810 613.5h2M1294 613.5h1M383 625.5h22M567 625.5h3M682 625.5h1M827 625.5h1M1188 625.5h1M78 747.5h1M190 747.5h2M1420 747.5h2M405 624.5h4M565 624.5h2M683 624.5h1M825 624.5h2M1189 624.5h1M119 768.5h3M148 768.5h2M1452 768.5h2M435 612.5h1M543 612.5h2M703 612.5h3M808 612.5h2M237 715.5h1M1381 715.5h1M417 621.5h3M558 621.5h2M687 621.5h2M821 621.5h2M1299 621.5h1M111 765.5h3M154 765.5h2M1447 765.5h2M29 730.5h4M219 730.5h1M1396 730.5h1M341 635.5h2M591 635.5h2M669 635.5h2M840 635.5h1M1177 635.5h2M1307 635.5h1M318 645.5h2M613 645.5h2M649 645.5h4M852 645.5h1M1159 645.5h3M349 632.5h2M586 632.5h2M673 632.5h2M836 632.5h1M1181 632.5h1M343 634.5h3M590 634.5h1M671 634.5h1M839 634.5h1M1179 634.5h1M441 607.5h2M534 607.5h2M717 607.5h2M799 607.5h2M1204 607.5h1M282 670.5h1M1054 670.5h2M1108 670.5h2M1331 670.5h1M281 671.5h1M1056 671.5h2M1106 671.5h2M1332 671.5h1M246 707.5h1M1372 707.5h1M122 769.5h5M143 769.5h5M1454 769.5h1M448 602.5h1M526 602.5h1M730 602.5h3M789 602.5h2M1209 602.5h1M1 721.5h1M230 721.5h1M1387 721.5h1M431 614.5h2M547 614.5h1M699 614.5h2M812 614.5h1M1198 614.5h1M259 693.5h1M1354 693.5h1M287 665.5h2M893 665.5h4M967 665.5h8M1041 665.5h4M1118 665.5h2M1327 665.5h1M106 763.5h3M158 763.5h2M1444 763.5h2M276 676.5h1M1069 676.5h4M1093 676.5h4M1337 676.5h1M313 648.5h2M623 648.5h16M856 648.5h1M1152 648.5h2M1315 648.5h1M251 702.5h1M1365 702.5h2M322 643.5h3M607 643.5h3M655 643.5h3M850 643.5h1M1164 643.5h2M1312 643.5h1M325 642.5h2M605 642.5h2M658 642.5h2M849 642.5h1M1166 642.5h1M283 669.5h1M1052 669.5h2M1110 669.5h2M1330 669.5h1M336 637.5h2M595 637.5h1M667 637.5h1M843 637.5h1M1174 637.5h1M239 713.5h2M1379 713.5h1M263 689.5h1M1350 689.5h1M243 710.5h1M1375 710.5h2M472 587.5h2M498 587.5h2M1223 587.5h2M1274 587.5h1M375 626.5h8M570 626.5h3M681 626.5h1M828 626.5h1M1187 626.5h1M41 733.5h4M215 733.5h1M1400 733.5h1M104 762.5h2M160 762.5h2M1443 762.5h1M422 619.5h2M555 619.5h1M691 619.5h1M819 619.5h1M1193 619.5h1M447 603.5h1M527 603.5h2M727 603.5h3M791 603.5h3M1208 603.5h1M436 611.5h1M542 611.5h1M706 611.5h3M806 611.5h2M1200 611.5h1M270 682.5h1M1343 682.5h1M280 672.5h1M1058 672.5h3M1104 672.5h2M1333 672.5h1M253 700.5h1M1363 700.5h1M279 673.5h1M1061 673.5h2M1102 673.5h2M1334 673.5h1M231 720.5h2M1386 720.5h1M17 727.5h4M223 727.5h1M1393 727.5h1M305 653.5h2M864 653.5h2M1142 653.5h2M277 675.5h1M1066 675.5h3M1097 675.5h3M1336 675.5h1M430 615.5h1M548 615.5h2M697 615.5h2M813 615.5h2M1197 615.5h1M443 606.5h1M532 606.5h2M719 606.5h3M798 606.5h1M1205 606.5h1M420 620.5h2M556 620.5h2M689 620.5h2M820 620.5h1M1192 620.5h1M117 767.5h2M150 767.5h2M1451 767.5h1M289 664.5h1M889 664.5h4M975 664.5h8M1037 664.5h4M1120 664.5h2M1326 664.5h1M445 604.5h2M529 604.5h2M725 604.5h2M794 604.5h2M1207 604.5h1M1288 604.5h1M413 622.5h4M560 622.5h2M686 622.5h1M823 622.5h1M330 640.5h2M600 640.5h2M662 640.5h1M846 640.5h1M1169 640.5h2M1310 640.5h1M5 723.5h2M228 723.5h1M1389 723.5h1M273 679.5h1M1340 679.5h1M1229 582.5h1M1269 582.5h1M367 627.5h8M573 627.5h2M679 627.5h2M829 627.5h2M1186 627.5h1M307 652.5h1M862 652.5h2M1144 652.5h2M272 680.5h1M1341 680.5h1M300 656.5h2M870 656.5h2M1136 656.5h2M457 596.5h2M516 596.5h2M1282 596.5h1M361 628.5h6M575 628.5h3M678 628.5h1M831 628.5h1M1185 628.5h1M1303 628.5h1M96 758.5h2M168 758.5h2M1436 758.5h2M440 608.5h1M536 608.5h2M714 608.5h3M801 608.5h2M1203 608.5h1M1291 608.5h1M426 617.5h2M551 617.5h2M694 617.5h1M816 617.5h1M1195 617.5h1M81 749.5h2M186 749.5h2M1423 749.5h2M334 638.5h2M596 638.5h2M665 638.5h2M844 638.5h1M1172 638.5h2M1470 779.5h2M455 597.5h2M518 597.5h1M1214 597.5h1M1283 597.5h1M320 644.5h2M610 644.5h3M653 644.5h2M851 644.5h1M1162 644.5h2M354 630.5h3M581 630.5h2M676 630.5h1M833 630.5h2M1183 630.5h1M467 590.5h1M504 590.5h2M1220 590.5h1M1277 590.5h1M57 737.5h4M208 737.5h2M1405 737.5h2M245 708.5h1M1373 708.5h1M2 722.5h3M229 722.5h1M1388 722.5h1M79 748.5h2M188 748.5h2M1422 748.5h1M286 666.5h1M897 666.5h6M959 666.5h8M1045 666.5h2M1116 666.5h2M1328 666.5h1M236 716.5h1M1382 716.5h1M428 616.5h2M550 616.5h1M695 616.5h2M815 616.5h1M1196 616.5h1M1296 616.5h1M346 633.5h3M588 633.5h2M672 633.5h1M837 633.5h2M1180 633.5h1M1465 776.5h2M252 701.5h1M1364 701.5h1M449 601.5h2M524 601.5h2M733 601.5h4M783 601.5h6M1210 601.5h1M1286 601.5h1M91 755.5h1M174 755.5h2M1432 755.5h1M271 681.5h1M1342 681.5h1M21 728.5h4M221 728.5h2M1394 728.5h1M278 674.5h1M1063 674.5h3M1100 674.5h2M1335 674.5h1M264 688.5h1M1349 688.5h1M295 659.5h2M876 659.5h2M1130 659.5h2M1242 572.5h5M1253 572.5h4M297 658.5h2M874 658.5h2M1132 658.5h2M109 764.5h2M156 764.5h2M1446 764.5h1M250 703.5h1M1367 703.5h1M25 729.5h4M220 729.5h1M1395 729.5h1M86 752.5h1M180 752.5h2M1428 752.5h1M89 754.5h2M176 754.5h2M1431 754.5h1M262 690.5h1M1351 690.5h1M465 591.5h2M506 591.5h2M1219 591.5h1M1278 591.5h1M1474 781.5h2M437 610.5h2M540 610.5h2M709 610.5h2M804 610.5h2M1201 610.5h1M269 683.5h1M1344 683.5h1M338 636.5h3M593 636.5h2M668 636.5h1M841 636.5h2M1175 636.5h2M53 736.5h4M210 736.5h2M1404 736.5h1M454 598.5h1M519 598.5h2M1213 598.5h1M238 714.5h1M1380 714.5h1M1236 575.5h2M1261 575.5h1M61 738.5h2M206 738.5h2M1407 738.5h1M315 647.5h1M618 647.5h5M639 647.5h6M855 647.5h1M1154 647.5h3M302 655.5h1M868 655.5h2M1138 655.5h2M439 609.5h1M538 609.5h2M711 609.5h3M803 609.5h1M1202 609.5h1M68 741.5h2M201 741.5h2M1411 741.5h1M299 657.5h1M872 657.5h2M1134 657.5h2M1321 657.5h1M1457 771.5h2M463 592.5h2M508 592.5h2M1218 592.5h1M98 759.5h2M166 759.5h2M1438 759.5h1M83 750.5h1M184 750.5h2M1425 750.5h2M244 709.5h1M1374 709.5h1M234 718.5h1M1384 718.5h1M49 735.5h4M212 735.5h1M1403 735.5h1M409 623.5h4M562 623.5h3M684 623.5h2M824 623.5h1M1190 623.5h1M256 696.5h1M1357 696.5h2M311 649.5h2M857 649.5h2M1150 649.5h2M460 594.5h2M512 594.5h2M1216 594.5h1M1280 594.5h1M452 599.5h2M521 599.5h2M1212 599.5h1M100 760.5h2M164 760.5h2M1439 760.5h2M7 724.5h3M227 724.5h1M1390 724.5h1M274 678.5h1M1079 678.5h8M1339 678.5h1M10 725.5h3M225 725.5h2M1391 725.5h1M45 734.5h4M213 734.5h2M1401 734.5h2M73 744.5h2M196 744.5h2M1415 744.5h2M351 631.5h3M583 631.5h3M675 631.5h1M835 631.5h1M1182 631.5h1M1468 778.5h2M268 684.5h1M1345 684.5h1M75 745.5h1M194 745.5h2M1417 745.5h2M1234 577.5h1M1263 577.5h2M66 740.5h2M203 740.5h1M1409 740.5h2M87 753.5h2M178 753.5h2M1429 753.5h2M13 726.5h4M224 726.5h1M1392 726.5h1M266 686.5h1M1347 686.5h1M1240 573.5h2M1257 573.5h3M265 687.5h1M1348 687.5h1M1238 574.5h2M1260 574.5h1M1472 780.5h2M459 595.5h1M514 595.5h2M1281 595.5h1M70 742.5h1M199 742.5h2M1412 742.5h2M1460 773.5h2M1462 774.5h1M102 761.5h2M162 761.5h2M1441 761.5h2M267 685.5h1M1346 685.5h1M254 699.5h1M1361 699.5h2M1235 576.5h1M1262 576.5h1M444 605.5h1M531 605.5h1M722 605.5h3M796 605.5h2M1206 605.5h1M1289 605.5h1M235 717.5h1M1383 717.5h1M1463 775.5h2M1233 578.5h1M1265 578.5h1M462 593.5h1M510 593.5h2M1217 593.5h1M257 695.5h1M1356 695.5h1M1459 772.5h1M249 704.5h1M1368 704.5h1M92 756.5h2M172 756.5h2M1433 756.5h2M261 691.5h1M1352 691.5h1M1228 583.5h1M1270 583.5h1M84 751.5h2M182 751.5h2M1427 751.5h1M1232 579.5h1M1266 579.5h1M33 731.5h4M217 731.5h2M1397 731.5h2M260 692.5h1M1353 692.5h1M1359 697.5h1M241 712.5h1M1378 712.5h1M258 694.5h1M1355 694.5h1M1231 580.5h1M1267 580.5h1M247 706.5h1M1371 706.5h1M1467 777.5h1M1360 698.5h1"/>
</g>
<rect x="2" y="2" width="1495" height="1" fill="#000"/>
<rect x="2" y="544" width="1495" height="1" fill="#000"/>
<rect x="2" y="546" width="1495" height="1" fill="#000"/>
<rect x="2" y="816" width="1495" height="1" fill="#000"/>
<rect x="2" y="2" width="1" height="815" fill="#000"/>
<rect x="1496" y="2" width="1" height="815" fill="#000"/>
<rect x="2" y="545" width="1495" height="1" fill="#fff"/>
</g>
<g shape-rendering="crispEdges">
<rect x="1497" y="35" width="2" height="1" fill="#000"/>
<rect x="1497" y="84" width="2" height="1" fill="#000"/>
<rect x="1497" y="133" width="2" height="1" fill="#000"/>
<rect x="1497" y="182" width="2" height="1" fill="#000"/>
<rect x="1497" y="231" width="2" height="1" fill="#000"/>
<rect x="1497" y="280" width="2" height="1" fill="#000"/>
<rect x="1497" y="329" width="2" height="1" fill="#000"/>
<rect x="1497" y="378" width="2" height="1" fill="#000"/>
<rect x="1497" y="427" width="2" height="1" fill="#000"/>
<rect x="1497" y="476" width="2" height="1" fill="#000"/>
<rect x="1497" y="525" width="2" height="1" fill="#000"/>
<rect x="1497" y="548" width="1" height="1" fill="#000"/>
<rect x="1497" y="667" width="1" height="1" fill="#000"/>
<rect x="1497" y="815" width="1" height="1" fill="#000"/>
<rect x="3" y="817" width="1" height="3" fill="#000"/>
<rect x="99" y="817" width="1" height="3" fill="#000"/>
<rect x="195" y="817" width="1" height="3" fill="#000"/>
<rect x="291" y="817" width="1" height="3" fill="#000"/>
<rect x="387" y="817" width="1" height="3" fill="#000"/>
<rect x="483" y="817" width="1" height="3" fill="#000"/>
<rect x="579" y="817" width="1" height="3" fill="#000"/>
<rect x="675" y="817" width="1" height="3" fill="#000"/>
<rect x="771" y="817" width="1" height="3" fill="#000"/>
<rect x="867" y="817" width="1" height="3" fill="#000"/>
<rect x="963" y="817" width="1" height="3" fill="#000"/>
<rect x="1059" y="817" width="1" height="3" fill="#000"/>
<rect x="1155" y="817" width="1" height="3" fill="#000"/>
<rect x="1251" y="817" width="1" height="3" fill="#000"/>
<rect x="1347" y="817" width="1" height="3" fill="#000"/>
<rect x="1443" y="817" width="1" height="3" fill="#000"/>
</g>
<text x="1503.5" y="40" textLength="44.7" lengthAdjust="spacingAndGlyphs">1.22400</text>
<text x="1503.5" y="89" textLength="44.7" lengthAdjust="spacingAndGlyphs">1.22185</text>
<text x="1503.5" y="138" textLength="44.7" lengthAdjust="spacingAndGlyphs">1.21970</text>
<text x="1503.5" y="187" textLength="44.7" lengthAdjust="spacingAndGlyphs">1.21755</text>
<text x="1503.5" y="236" textLength="44.7" lengthAdjust="spacingAndGlyphs">1.21540</text>
<text x="1503.5" y="285" textLength="44.7" lengthAdjust="spacingAndGlyphs">1.21325</text>
<text x="1503.5" y="334" textLength="44.7" lengthAdjust="spacingAndGlyphs">1.21110</text>
<text x="1503.5" y="383" textLength="44.7" lengthAdjust="spacingAndGlyphs">1.20895</text>
<text x="1503.5" y="432" textLength="44.7" lengthAdjust="spacingAndGlyphs">1.20680</text>
<text x="1503.5" y="481" textLength="44.7" lengthAdjust="spacingAndGlyphs">1.20465</text>
<text x="1503.5" y="530" textLength="44.7" lengthAdjust="spacingAndGlyphs">1.20250</text>
<text x="1501" y="560" textLength="44.3" lengthAdjust="spacingAndGlyphs">0.00223</text>
<text x="1501" y="672" textLength="23.3" lengthAdjust="spacingAndGlyphs">0.00</text>
<text x="1500" y="813" textLength="55.9" lengthAdjust="spacingAndGlyphs">-0.002757</text>
<g shape-rendering="crispEdges"><rect x="1498" y="375" width="56" height="14" fill="#000"/><rect x="1498" y="390" width="56" height="14" fill="#ff0000"/><rect x="1498" y="423" width="56" height="14" fill="#ff0000"/></g>
<text x="1504" y="386.5" textLength="44.3" lengthAdjust="spacingAndGlyphs" style="fill:#fff">1.20881</text>
<text x="1504" y="401.5" textLength="44.3" lengthAdjust="spacingAndGlyphs" style="fill:#fff">1.20818</text>
<text x="1504" y="434.5" textLength="44.3" lengthAdjust="spacingAndGlyphs" style="fill:#fff">1.20673</text>
<text x="2.4" y="832" textLength="69" lengthAdjust="spacingAndGlyphs">17 Feb 2021</text>
<text x="98.4" y="832" textLength="73.3" lengthAdjust="spacingAndGlyphs">17 Feb 19:00</text>
<text x="194.4" y="832" textLength="73.3" lengthAdjust="spacingAndGlyphs">18 Feb 07:00</text>
<text x="290.4" y="832" textLength="73.3" lengthAdjust="spacingAndGlyphs">18 Feb 19:00</text>
<text x="386.4" y="832" textLength="73.3" lengthAdjust="spacingAndGlyphs">19 Feb 07:00</text>
<text x="482.4" y="832" textLength="73.3" lengthAdjust="spacingAndGlyphs">19 Feb 19:00</text>
<text x="578.4" y="832" textLength="73.3" lengthAdjust="spacingAndGlyphs">22 Feb 08:00</text>
<text x="674.4" y="832" textLength="73.3" lengthAdjust="spacingAndGlyphs">22 Feb 20:00</text>
<text x="770.4" y="832" textLength="73.3" lengthAdjust="spacingAndGlyphs">23 Feb 08:00</text>
<text x="866.4" y="832" textLength="73.3" lengthAdjust="spacingAndGlyphs">23 Feb 20:00</text>
<text x="962.4" y="832" textLength="73.3" lengthAdjust="spacingAndGlyphs">24 Feb 08:00</text>
<text x="1058.4" y="832" textLength="73.3" lengthAdjust="spacingAndGlyphs">24 Feb 20:00</text>
<text x="1154.4" y="832" textLength="73.3" lengthAdjust="spacingAndGlyphs">25 Feb 08:00</text>
<text x="1250.4" y="832" textLength="73.3" lengthAdjust="spacingAndGlyphs">25 Feb 20:00</text>
<text x="1346.4" y="832" textLength="73.3" lengthAdjust="spacingAndGlyphs">26 Feb 08:00</text>
<text x="1442.4" y="832" textLength="73.3" lengthAdjust="spacingAndGlyphs">26 Feb 20:00</text>
<path d="M6 10h9v1h-1v1h-1v1h-1v1h-1v1h-1v-1h-1v-1h-1v-1h-1v-1h-1z" fill="#000" shape-rendering="crispEdges"/>
<text y="17"><tspan x="20.9" textLength="62.6" lengthAdjust="spacingAndGlyphs">EURUSD,H1</tspan> <tspan x="93.2" textLength="44.8" lengthAdjust="spacingAndGlyphs">1.20724</tspan> <tspan x="143.3" textLength="45.4" lengthAdjust="spacingAndGlyphs">1.20918</tspan> <tspan x="193.7" textLength="43.8" lengthAdjust="spacingAndGlyphs">1.20711</tspan> <tspan x="243.7" textLength="44.3" lengthAdjust="spacingAndGlyphs">1.20881</tspan></text>
<text y="562"><tspan x="7.5" textLength="84.5" lengthAdjust="spacingAndGlyphs">MACD(12,26,9)</tspan> <tspan x="96.2" textLength="55.8" lengthAdjust="spacingAndGlyphs">-0.002423</tspan> <tspan x="157.5" textLength="55.8" lengthAdjust="spacingAndGlyphs">-0.002116</tspan> <tspan x="222.5" textLength="47" lengthAdjust="spacingAndGlyphs">-&gt;MA(1)</tspan> <tspan x="273.7" textLength="56.3" lengthAdjust="spacingAndGlyphs">-0.002423</tspan></text>
</svg></body></html>
